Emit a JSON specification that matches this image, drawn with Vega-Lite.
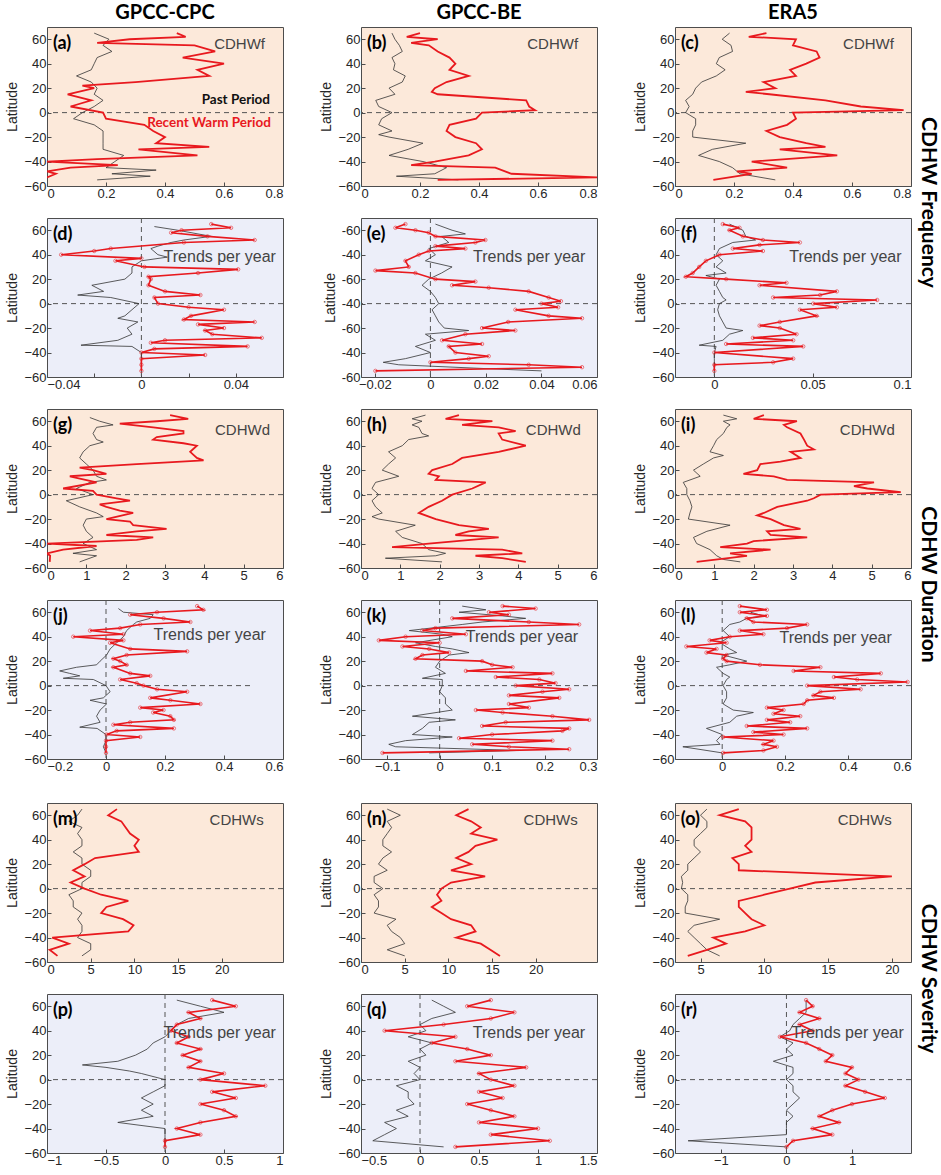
{
"$schema": "https://vega.github.io/schema/vega-lite/v6.json",
"padding": {"left": 5, "top": 2, "right": 2, "bottom": 2},
"background": "white",
"config": {
 "view": {"stroke": "#4d4d4d", "strokeWidth": 1},
 "axis": {"labelFont": "Liberation Sans", "labelFontSize": 13, "labelColor": "#262626", "titleFont": "Liberation Sans", "titleFontSize": 14, "titleFontWeight": "normal", "titleColor": "#262626", "grid": false, "domain": false, "tickColor": "#4d4d4d", "tickSize": -4, "labelPadding": 5, "format": "~r"},
 "axisY": {"titlePadding": 4},
 "title": {"font": "Lato", "fontSize": 20, "fontWeight": "bold", "color": "#000", "offset": 0}
},
"data": {"values": [
{"p":"a","s":"k","y":65,"x":0.16},{"p":"a","s":"k","y":60,"x":0.21},{"p":"a","s":"k","y":55,"x":0.19},{"p":"a","s":"k","y":50,"x":0.22},{"p":"a","s":"k","y":45,"x":0.17},{"p":"a","s":"k","y":40,"x":0.16},{"p":"a","s":"k","y":35,"x":0.15},{"p":"a","s":"k","y":30,"x":0.10},{"p":"a","s":"k","y":25,"x":0.15},{"p":"a","s":"k","y":20,"x":0.17},{"p":"a","s":"k","y":15,"x":0.16},{"p":"a","s":"k","y":10,"x":0.19},{"p":"a","s":"k","y":5,"x":0.16},{"p":"a","s":"k","y":0,"x":0.12},{"p":"a","s":"k","y":-5,"x":0.09},{"p":"a","s":"k","y":-10,"x":0.16},{"p":"a","s":"k","y":-15,"x":0.19},{"p":"a","s":"k","y":-20,"x":0.19},{"p":"a","s":"k","y":-25,"x":0.19},{"p":"a","s":"k","y":-30,"x":0.19},{"p":"a","s":"k","y":-35,"x":0.26},{"p":"a","s":"k","y":-40,"x":0.23},{"p":"a","s":"k","y":-45,"x":0.2},{"p":"a","s":"k","y":-47,"x":0.37},{"p":"a","s":"k","y":-50,"x":0.22},{"p":"a","s":"k","y":-52,"x":0.35},{"p":"a","s":"k","y":-55,"x":0.17},
{"p":"a","s":"r","y":65,"x":0.44},{"p":"a","s":"r","y":62,"x":0.47},{"p":"a","s":"r","y":60,"x":0.28},{"p":"a","s":"r","y":57,"x":0.17},{"p":"a","s":"r","y":55,"x":0.5},{"p":"a","s":"r","y":50,"x":0.57},{"p":"a","s":"r","y":45,"x":0.46},{"p":"a","s":"r","y":40,"x":0.6},{"p":"a","s":"r","y":35,"x":0.51},{"p":"a","s":"r","y":30,"x":0.55},{"p":"a","s":"r","y":25,"x":0.3},{"p":"a","s":"r","y":22,"x":0.12},{"p":"a","s":"r","y":20,"x":0.16},{"p":"a","s":"r","y":15,"x":0.07},{"p":"a","s":"r","y":10,"x":0.15},{"p":"a","s":"r","y":5,"x":0.08},{"p":"a","s":"r","y":0,"x":0.19},{"p":"a","s":"r","y":-5,"x":0.2},{"p":"a","s":"r","y":-10,"x":0.33},{"p":"a","s":"r","y":-15,"x":0.36},{"p":"a","s":"r","y":-20,"x":0.4},{"p":"a","s":"r","y":-25,"x":0.37},{"p":"a","s":"r","y":-28,"x":0.55},{"p":"a","s":"r","y":-30,"x":0.31},{"p":"a","s":"r","y":-35,"x":0.51},{"p":"a","s":"r","y":-38,"x":0.17},{"p":"a","s":"r","y":-40,"x":0.0},{"p":"a","s":"r","y":-43,"x":0.24},{"p":"a","s":"r","y":-45,"x":0.08},{"p":"a","s":"r","y":-48,"x":0.0},{"p":"a","s":"r","y":-50,"x":0.03},{"p":"a","s":"r","y":-53,"x":0.0},
{"p":"b","s":"k","y":65,"x":0.105},{"p":"b","s":"k","y":60,"x":0.115},{"p":"b","s":"k","y":55,"x":0.13},{"p":"b","s":"k","y":50,"x":0.14},{"p":"b","s":"k","y":45,"x":0.105},{"p":"b","s":"k","y":40,"x":0.115},{"p":"b","s":"k","y":35,"x":0.11},{"p":"b","s":"k","y":30,"x":0.15},{"p":"b","s":"k","y":25,"x":0.14},{"p":"b","s":"k","y":20,"x":0.095},{"p":"b","s":"k","y":15,"x":0.115},{"p":"b","s":"k","y":10,"x":0.05},{"p":"b","s":"k","y":5,"x":0.06},{"p":"b","s":"k","y":0,"x":0.105},{"p":"b","s":"k","y":-5,"x":0.07},{"p":"b","s":"k","y":-10,"x":0.06},{"p":"b","s":"k","y":-15,"x":0.105},{"p":"b","s":"k","y":-18,"x":0.06},{"p":"b","s":"k","y":-20,"x":0.095},{"p":"b","s":"k","y":-25,"x":0.21},{"p":"b","s":"k","y":-30,"x":0.16},{"p":"b","s":"k","y":-35,"x":0.095},{"p":"b","s":"k","y":-40,"x":0.21},{"p":"b","s":"k","y":-45,"x":0.29},{"p":"b","s":"k","y":-50,"x":0.25},{"p":"b","s":"k","y":-52,"x":0.12},{"p":"b","s":"k","y":-55,"x":0.33},
{"p":"b","s":"r","y":65,"x":0.2},{"p":"b","s":"r","y":62,"x":0.155},{"p":"b","s":"r","y":60,"x":0.26},{"p":"b","s":"r","y":57,"x":0.17},{"p":"b","s":"r","y":55,"x":0.23},{"p":"b","s":"r","y":50,"x":0.26},{"p":"b","s":"r","y":45,"x":0.3},{"p":"b","s":"r","y":40,"x":0.32},{"p":"b","s":"r","y":35,"x":0.3},{"p":"b","s":"r","y":30,"x":0.365},{"p":"b","s":"r","y":25,"x":0.29},{"p":"b","s":"r","y":20,"x":0.25},{"p":"b","s":"r","y":17,"x":0.24},{"p":"b","s":"r","y":15,"x":0.26},{"p":"b","s":"r","y":10,"x":0.56},{"p":"b","s":"r","y":5,"x":0.57},{"p":"b","s":"r","y":2,"x":0.59},{"p":"b","s":"r","y":0,"x":0.41},{"p":"b","s":"r","y":-5,"x":0.39},{"p":"b","s":"r","y":-10,"x":0.3},{"p":"b","s":"r","y":-15,"x":0.29},{"p":"b","s":"r","y":-20,"x":0.32},{"p":"b","s":"r","y":-25,"x":0.39},{"p":"b","s":"r","y":-30,"x":0.41},{"p":"b","s":"r","y":-35,"x":0.365},{"p":"b","s":"r","y":-40,"x":0.25},{"p":"b","s":"r","y":-43,"x":0.17},{"p":"b","s":"r","y":-45,"x":0.455},{"p":"b","s":"r","y":-50,"x":0.51},{"p":"b","s":"r","y":-53,"x":0.8},{"p":"b","s":"r","y":-55,"x":0.26},
{"p":"c","s":"k","y":65,"x":0.185},{"p":"c","s":"k","y":60,"x":0.16},{"p":"c","s":"k","y":55,"x":0.19},{"p":"c","s":"k","y":50,"x":0.195},{"p":"c","s":"k","y":45,"x":0.15},{"p":"c","s":"k","y":40,"x":0.14},{"p":"c","s":"k","y":35,"x":0.17},{"p":"c","s":"k","y":30,"x":0.14},{"p":"c","s":"k","y":25,"x":0.09},{"p":"c","s":"k","y":20,"x":0.07},{"p":"c","s":"k","y":15,"x":0.06},{"p":"c","s":"k","y":10,"x":0.036},{"p":"c","s":"k","y":5,"x":0.048},{"p":"c","s":"k","y":0,"x":0.036},{"p":"c","s":"k","y":-5,"x":0.07},{"p":"c","s":"k","y":-10,"x":0.07},{"p":"c","s":"k","y":-15,"x":0.06},{"p":"c","s":"k","y":-20,"x":0.06},{"p":"c","s":"k","y":-25,"x":0.24},{"p":"c","s":"k","y":-30,"x":0.127},{"p":"c","s":"k","y":-35,"x":0.08},{"p":"c","s":"k","y":-40,"x":0.15},{"p":"c","s":"k","y":-45,"x":0.195},{"p":"c","s":"k","y":-50,"x":0.22},{"p":"c","s":"k","y":-55,"x":0.34},
{"p":"c","s":"r","y":65,"x":0.31},{"p":"c","s":"r","y":62,"x":0.25},{"p":"c","s":"r","y":60,"x":0.41},{"p":"c","s":"r","y":55,"x":0.4},{"p":"c","s":"r","y":50,"x":0.48},{"p":"c","s":"r","y":45,"x":0.49},{"p":"c","s":"r","y":40,"x":0.445},{"p":"c","s":"r","y":35,"x":0.39},{"p":"c","s":"r","y":30,"x":0.41},{"p":"c","s":"r","y":25,"x":0.3},{"p":"c","s":"r","y":20,"x":0.34},{"p":"c","s":"r","y":17,"x":0.24},{"p":"c","s":"r","y":15,"x":0.32},{"p":"c","s":"r","y":10,"x":0.51},{"p":"c","s":"r","y":5,"x":0.63},{"p":"c","s":"r","y":2,"x":0.775},{"p":"c","s":"r","y":0,"x":0.4},{"p":"c","s":"r","y":-5,"x":0.41},{"p":"c","s":"r","y":-10,"x":0.38},{"p":"c","s":"r","y":-15,"x":0.31},{"p":"c","s":"r","y":-20,"x":0.355},{"p":"c","s":"r","y":-25,"x":0.445},{"p":"c","s":"r","y":-28,"x":0.51},{"p":"c","s":"r","y":-30,"x":0.355},{"p":"c","s":"r","y":-35,"x":0.55},{"p":"c","s":"r","y":-40,"x":0.26},{"p":"c","s":"r","y":-45,"x":0.38},{"p":"c","s":"r","y":-48,"x":0.21},{"p":"c","s":"r","y":-50,"x":0.26},{"p":"c","s":"r","y":-55,"x":0.13},
{"p":"d","s":"k","y":63,"x":0.0055},{"p":"d","s":"k","y":60,"x":0.0154},{"p":"d","s":"k","y":55,"x":0.0296},{"p":"d","s":"k","y":52,"x":0.018},{"p":"d","s":"k","y":50,"x":0.0126},{"p":"d","s":"k","y":47,"x":0.007},{"p":"d","s":"k","y":45,"x":0.004},{"p":"d","s":"k","y":40,"x":0.007},{"p":"d","s":"k","y":38,"x":0.011},{"p":"d","s":"k","y":35,"x":0},{"p":"d","s":"k","y":30,"x":-0.004},{"p":"d","s":"k","y":25,"x":-0.004},{"p":"d","s":"k","y":20,"x":-0.007},{"p":"d","s":"k","y":15,"x":-0.021},{"p":"d","s":"k","y":10,"x":-0.016},{"p":"d","s":"k","y":7,"x":-0.027},{"p":"d","s":"k","y":5,"x":-0.013},{"p":"d","s":"k","y":0,"x":-0.001},{"p":"d","s":"k","y":-5,"x":-0.004},{"p":"d","s":"k","y":-10,"x":-0.007},{"p":"d","s":"k","y":-12,"x":-0.01},{"p":"d","s":"k","y":-15,"x":-0.0015},{"p":"d","s":"k","y":-20,"x":-0.006},{"p":"d","s":"k","y":-25,"x":-0.004},{"p":"d","s":"k","y":-30,"x":-0.01},{"p":"d","s":"k","y":-34,"x":-0.0256},{"p":"d","s":"k","y":-35,"x":-0.004},{"p":"d","s":"k","y":-40,"x":0},{"p":"d","s":"k","y":-45,"x":0},{"p":"d","s":"k","y":-50,"x":0},{"p":"d","s":"k","y":-55,"x":0},
{"p":"d","s":"r","y":65,"x":0.0296},{"p":"d","s":"r","y":62,"x":0.038},{"p":"d","s":"r","y":60,"x":0.017},{"p":"d","s":"r","y":58,"x":0.0126},{"p":"d","s":"r","y":55,"x":0.028},{"p":"d","s":"r","y":52,"x":0.048},{"p":"d","s":"r","y":50,"x":0.018},{"p":"d","s":"r","y":45,"x":-0.013},{"p":"d","s":"r","y":43,"x":-0.02},{"p":"d","s":"r","y":40,"x":-0.034},{"p":"d","s":"r","y":37,"x":0},{"p":"d","s":"r","y":35,"x":-0.011},{"p":"d","s":"r","y":30,"x":0.0013},{"p":"d","s":"r","y":28,"x":0.041},{"p":"d","s":"r","y":25,"x":0.024},{"p":"d","s":"r","y":22,"x":0.003},{"p":"d","s":"r","y":20,"x":0.004},{"p":"d","s":"r","y":15,"x":0.003},{"p":"d","s":"r","y":10,"x":0.01},{"p":"d","s":"r","y":7,"x":0.025},{"p":"d","s":"r","y":5,"x":0.0055},{"p":"d","s":"r","y":0,"x":0.007},{"p":"d","s":"r","y":-3,"x":0.02},{"p":"d","s":"r","y":-5,"x":0.035},{"p":"d","s":"r","y":-10,"x":0.021},{"p":"d","s":"r","y":-13,"x":0.018},{"p":"d","s":"r","y":-15,"x":0.048},{"p":"d","s":"r","y":-17,"x":0.024},{"p":"d","s":"r","y":-20,"x":0.035},{"p":"d","s":"r","y":-22,"x":0.027},{"p":"d","s":"r","y":-25,"x":0.03},{"p":"d","s":"r","y":-28,"x":0.051},{"p":"d","s":"r","y":-30,"x":0.01},{"p":"d","s":"r","y":-32,"x":0.004},{"p":"d","s":"r","y":-35,"x":0.045},{"p":"d","s":"r","y":-37,"x":0.0055},{"p":"d","s":"r","y":-40,"x":0},{"p":"d","s":"r","y":-42,"x":0.027},{"p":"d","s":"r","y":-45,"x":0},{"p":"d","s":"r","y":-50,"x":0},{"p":"d","s":"r","y":-55,"x":0},
{"p":"e","s":"k","y":65,"x":0.0018},{"p":"e","s":"k","y":60,"x":0.0078},{"p":"e","s":"k","y":57,"x":0.0126},{"p":"e","s":"k","y":55,"x":0.004},{"p":"e","s":"k","y":50,"x":0.0066},{"p":"e","s":"k","y":45,"x":-0.0006},{"p":"e","s":"k","y":40,"x":0.0018},{"p":"e","s":"k","y":35,"x":-0.0018},{"p":"e","s":"k","y":30,"x":0.0078},{"p":"e","s":"k","y":25,"x":0.004},{"p":"e","s":"k","y":20,"x":-0.0006},{"p":"e","s":"k","y":15,"x":-0.003},{"p":"e","s":"k","y":10,"x":0},{"p":"e","s":"k","y":5,"x":0.0018},{"p":"e","s":"k","y":0,"x":0.003},{"p":"e","s":"k","y":-5,"x":0.0006},{"p":"e","s":"k","y":-10,"x":0.0018},{"p":"e","s":"k","y":-15,"x":0.003},{"p":"e","s":"k","y":-20,"x":0.005},{"p":"e","s":"k","y":-22,"x":0.0138},{"p":"e","s":"k","y":-25,"x":-0.0018},{"p":"e","s":"k","y":-30,"x":0.0018},{"p":"e","s":"k","y":-35,"x":-0.0054},{"p":"e","s":"k","y":-40,"x":0},{"p":"e","s":"k","y":-45,"x":-0.009},{"p":"e","s":"k","y":-48,"x":-0.017},{"p":"e","s":"k","y":-50,"x":-0.0114},{"p":"e","s":"k","y":-53,"x":0.0186},{"p":"e","s":"k","y":-55,"x":0.04},
{"p":"e","s":"r","y":65,"x":-0.009},{"p":"e","s":"r","y":62,"x":-0.0126},{"p":"e","s":"r","y":60,"x":-0.0054},{"p":"e","s":"r","y":58,"x":-0.0006},{"p":"e","s":"r","y":55,"x":0.0018},{"p":"e","s":"r","y":52,"x":0.0198},{"p":"e","s":"r","y":50,"x":0.0162},{"p":"e","s":"r","y":47,"x":0.0018},{"p":"e","s":"r","y":45,"x":0.0126},{"p":"e","s":"r","y":43,"x":-0.0006},{"p":"e","s":"r","y":40,"x":-0.0042},{"p":"e","s":"r","y":35,"x":-0.009},{"p":"e","s":"r","y":30,"x":-0.0078},{"p":"e","s":"r","y":27,"x":-0.0198},{"p":"e","s":"r","y":25,"x":-0.0054},{"p":"e","s":"r","y":20,"x":0.0018},{"p":"e","s":"r","y":18,"x":0.0162},{"p":"e","s":"r","y":15,"x":0.0078},{"p":"e","s":"r","y":13,"x":0.021},{"p":"e","s":"r","y":10,"x":0.0354},{"p":"e","s":"r","y":5,"x":0.0426},{"p":"e","s":"r","y":2,"x":0.047},{"p":"e","s":"r","y":0,"x":0.04},{"p":"e","s":"r","y":-3,"x":0.046},{"p":"e","s":"r","y":-5,"x":0.0306},{"p":"e","s":"r","y":-10,"x":0.0426},{"p":"e","s":"r","y":-12,"x":0.0546},{"p":"e","s":"r","y":-15,"x":0.028},{"p":"e","s":"r","y":-20,"x":0.0186},{"p":"e","s":"r","y":-22,"x":0.0306},{"p":"e","s":"r","y":-25,"x":0.0126},{"p":"e","s":"r","y":-30,"x":0.0042},{"p":"e","s":"r","y":-33,"x":0.0186},{"p":"e","s":"r","y":-35,"x":0.0066},{"p":"e","s":"r","y":-40,"x":0.009},{"p":"e","s":"r","y":-43,"x":0.021},{"p":"e","s":"r","y":-45,"x":0.0138},{"p":"e","s":"r","y":-48,"x":0},{"p":"e","s":"r","y":-50,"x":0.0354},{"p":"e","s":"r","y":-52,"x":0.0546},{"p":"e","s":"r","y":-55,"x":-0.0198},
{"p":"f","s":"k","y":65,"x":0.0077},{"p":"f","s":"k","y":60,"x":0.0145},{"p":"f","s":"k","y":55,"x":0.016},{"p":"f","s":"k","y":52,"x":0.021},{"p":"f","s":"k","y":50,"x":0.0094},{"p":"f","s":"k","y":45,"x":0.0026},{"p":"f","s":"k","y":40,"x":0.0009},{"p":"f","s":"k","y":35,"x":0.0043},{"p":"f","s":"k","y":30,"x":0.0009},{"p":"f","s":"k","y":25,"x":0.006},{"p":"f","s":"k","y":23,"x":-0.0043},{"p":"f","s":"k","y":20,"x":0.0026},{"p":"f","s":"k","y":15,"x":0.0009},{"p":"f","s":"k","y":10,"x":0.0026},{"p":"f","s":"k","y":5,"x":0.0043},{"p":"f","s":"k","y":3,"x":0.006},{"p":"f","s":"k","y":0,"x":0.0026},{"p":"f","s":"k","y":-5,"x":0.0017},{"p":"f","s":"k","y":-10,"x":0.0026},{"p":"f","s":"k","y":-15,"x":0.0043},{"p":"f","s":"k","y":-20,"x":0.006},{"p":"f","s":"k","y":-22,"x":0.0145},{"p":"f","s":"k","y":-25,"x":0.0077},{"p":"f","s":"k","y":-30,"x":0.0043},{"p":"f","s":"k","y":-34,"x":-0.0077},{"p":"f","s":"k","y":-35,"x":0.0009},{"p":"f","s":"k","y":-40,"x":0},{"p":"f","s":"k","y":-45,"x":0},{"p":"f","s":"k","y":-50,"x":0},{"p":"f","s":"k","y":-55,"x":0},
{"p":"f","s":"r","y":65,"x":0.0043},{"p":"f","s":"r","y":62,"x":0.0128},{"p":"f","s":"r","y":60,"x":0.0077},{"p":"f","s":"r","y":55,"x":0.0145},{"p":"f","s":"r","y":52,"x":0.0247},{"p":"f","s":"r","y":50,"x":0.0435},{"p":"f","s":"r","y":48,"x":0.023},{"p":"f","s":"r","y":45,"x":0.0094},{"p":"f","s":"r","y":43,"x":0.0247},{"p":"f","s":"r","y":40,"x":0.0026},{"p":"f","s":"r","y":35,"x":-0.0043},{"p":"f","s":"r","y":30,"x":-0.0077},{"p":"f","s":"r","y":25,"x":-0.011},{"p":"f","s":"r","y":22,"x":-0.0145},{"p":"f","s":"r","y":20,"x":0.006},{"p":"f","s":"r","y":17,"x":0.0367},{"p":"f","s":"r","y":15,"x":0.023},{"p":"f","s":"r","y":10,"x":0.0623},{"p":"f","s":"r","y":7,"x":0.0538},{"p":"f","s":"r","y":5,"x":0.0299},{"p":"f","s":"r","y":3,"x":0.0828},{"p":"f","s":"r","y":0,"x":0.0503},{"p":"f","s":"r","y":-3,"x":0.0623},{"p":"f","s":"r","y":-5,"x":0.0435},{"p":"f","s":"r","y":-10,"x":0.052},{"p":"f","s":"r","y":-15,"x":0.0333},{"p":"f","s":"r","y":-18,"x":0.023},{"p":"f","s":"r","y":-20,"x":0.0333},{"p":"f","s":"r","y":-25,"x":0.0418},{"p":"f","s":"r","y":-28,"x":0.0196},{"p":"f","s":"r","y":-30,"x":0.0401},{"p":"f","s":"r","y":-33,"x":0.006},{"p":"f","s":"r","y":-35,"x":0.0452},{"p":"f","s":"r","y":-40,"x":0},{"p":"f","s":"r","y":-45,"x":0.0401},{"p":"f","s":"r","y":-48,"x":0.0299},{"p":"f","s":"r","y":-50,"x":0},{"p":"f","s":"r","y":-55,"x":0},
{"p":"g","s":"k","y":63,"x":1.09},{"p":"g","s":"k","y":60,"x":1.34},{"p":"g","s":"k","y":57,"x":1.68},{"p":"g","s":"k","y":55,"x":1.26},{"p":"g","s":"k","y":50,"x":1.17},{"p":"g","s":"k","y":45,"x":1.26},{"p":"g","s":"k","y":43,"x":1.43},{"p":"g","s":"k","y":40,"x":1.09},{"p":"g","s":"k","y":35,"x":0.92},{"p":"g","s":"k","y":30,"x":0.83},{"p":"g","s":"k","y":25,"x":1.0},{"p":"g","s":"k","y":20,"x":1.17},{"p":"g","s":"k","y":15,"x":1.26},{"p":"g","s":"k","y":12,"x":1.51},{"p":"g","s":"k","y":10,"x":1.09},{"p":"g","s":"k","y":5,"x":0.75},{"p":"g","s":"k","y":0,"x":1.17},{"p":"g","s":"k","y":-5,"x":0.49},{"p":"g","s":"k","y":-10,"x":0.83},{"p":"g","s":"k","y":-15,"x":1.26},{"p":"g","s":"k","y":-18,"x":1.43},{"p":"g","s":"k","y":-20,"x":1.0},{"p":"g","s":"k","y":-25,"x":0.92},{"p":"g","s":"k","y":-30,"x":1.0},{"p":"g","s":"k","y":-35,"x":1.17},{"p":"g","s":"k","y":-40,"x":0.92},{"p":"g","s":"k","y":-45,"x":1.26},{"p":"g","s":"k","y":-48,"x":0.66},{"p":"g","s":"k","y":-50,"x":1.26},{"p":"g","s":"k","y":-55,"x":0.83},
{"p":"g","s":"r","y":65,"x":3.13},{"p":"g","s":"r","y":62,"x":3.59},{"p":"g","s":"r","y":60,"x":2.79},{"p":"g","s":"r","y":58,"x":1.85},{"p":"g","s":"r","y":55,"x":2.7},{"p":"g","s":"r","y":52,"x":3.47},{"p":"g","s":"r","y":50,"x":3.47},{"p":"g","s":"r","y":47,"x":2.79},{"p":"g","s":"r","y":45,"x":2.7},{"p":"g","s":"r","y":42,"x":3.47},{"p":"g","s":"r","y":40,"x":3.81},{"p":"g","s":"r","y":35,"x":3.64},{"p":"g","s":"r","y":30,"x":3.81},{"p":"g","s":"r","y":28,"x":3.98},{"p":"g","s":"r","y":25,"x":2.28},{"p":"g","s":"r","y":22,"x":0.83},{"p":"g","s":"r","y":20,"x":1.17},{"p":"g","s":"r","y":17,"x":1.51},{"p":"g","s":"r","y":15,"x":0.58},{"p":"g","s":"r","y":10,"x":1.26},{"p":"g","s":"r","y":5,"x":0.41},{"p":"g","s":"r","y":3,"x":1.17},{"p":"g","s":"r","y":0,"x":1.26},{"p":"g","s":"r","y":-3,"x":1.77},{"p":"g","s":"r","y":-5,"x":2.11},{"p":"g","s":"r","y":-8,"x":1.34},{"p":"g","s":"r","y":-10,"x":1.51},{"p":"g","s":"r","y":-13,"x":1.85},{"p":"g","s":"r","y":-15,"x":2.19},{"p":"g","s":"r","y":-20,"x":1.51},{"p":"g","s":"r","y":-22,"x":2.11},{"p":"g","s":"r","y":-25,"x":2.19},{"p":"g","s":"r","y":-28,"x":3.04},{"p":"g","s":"r","y":-30,"x":2.28},{"p":"g","s":"r","y":-33,"x":1.51},{"p":"g","s":"r","y":-35,"x":2.7},{"p":"g","s":"r","y":-37,"x":2.28},{"p":"g","s":"r","y":-40,"x":0},{"p":"g","s":"r","y":-42,"x":1.26},{"p":"g","s":"r","y":-45,"x":0.41},{"p":"g","s":"r","y":-48,"x":0},{"p":"g","s":"r","y":-50,"x":0.08},{"p":"g","s":"r","y":-55,"x":0.07},
{"p":"h","s":"k","y":65,"x":1.64},{"p":"h","s":"k","y":62,"x":1.3},{"p":"h","s":"k","y":60,"x":1.55},{"p":"h","s":"k","y":57,"x":1.3},{"p":"h","s":"k","y":55,"x":1.47},{"p":"h","s":"k","y":50,"x":1.55},{"p":"h","s":"k","y":48,"x":1.72},{"p":"h","s":"k","y":45,"x":1.21},{"p":"h","s":"k","y":40,"x":1.05},{"p":"h","s":"k","y":35,"x":0.7},{"p":"h","s":"k","y":30,"x":0.88},{"p":"h","s":"k","y":25,"x":0.7},{"p":"h","s":"k","y":20,"x":0.54},{"p":"h","s":"k","y":15,"x":0.96},{"p":"h","s":"k","y":10,"x":0.37},{"p":"h","s":"k","y":5,"x":0.28},{"p":"h","s":"k","y":0,"x":0.45},{"p":"h","s":"k","y":-5,"x":0.28},{"p":"h","s":"k","y":-10,"x":0.37},{"p":"h","s":"k","y":-15,"x":0.54},{"p":"h","s":"k","y":-18,"x":0.28},{"p":"h","s":"k","y":-20,"x":0.45},{"p":"h","s":"k","y":-25,"x":1.38},{"p":"h","s":"k","y":-30,"x":0.88},{"p":"h","s":"k","y":-35,"x":1.05},{"p":"h","s":"k","y":-40,"x":1.55},{"p":"h","s":"k","y":-45,"x":1.72},{"p":"h","s":"k","y":-48,"x":2.15},{"p":"h","s":"k","y":-50,"x":1.9},{"p":"h","s":"k","y":-52,"x":0.62},{"p":"h","s":"k","y":-55,"x":2.06},
{"p":"h","s":"r","y":65,"x":2.49},{"p":"h","s":"r","y":62,"x":2.15},{"p":"h","s":"r","y":60,"x":3.34},{"p":"h","s":"r","y":57,"x":2.57},{"p":"h","s":"r","y":55,"x":3.5},{"p":"h","s":"r","y":52,"x":3.93},{"p":"h","s":"r","y":50,"x":3.5},{"p":"h","s":"r","y":45,"x":3.59},{"p":"h","s":"r","y":40,"x":4.19},{"p":"h","s":"r","y":35,"x":3.5},{"p":"h","s":"r","y":30,"x":2.57},{"p":"h","s":"r","y":25,"x":2.32},{"p":"h","s":"r","y":20,"x":1.81},{"p":"h","s":"r","y":17,"x":1.72},{"p":"h","s":"r","y":15,"x":1.98},{"p":"h","s":"r","y":12,"x":1.9},{"p":"h","s":"r","y":10,"x":3.17},{"p":"h","s":"r","y":5,"x":2.83},{"p":"h","s":"r","y":0,"x":2.32},{"p":"h","s":"r","y":-5,"x":2.06},{"p":"h","s":"r","y":-10,"x":1.72},{"p":"h","s":"r","y":-15,"x":1.47},{"p":"h","s":"r","y":-20,"x":1.9},{"p":"h","s":"r","y":-25,"x":2.49},{"p":"h","s":"r","y":-28,"x":3.25},{"p":"h","s":"r","y":-30,"x":2.74},{"p":"h","s":"r","y":-33,"x":2.4},{"p":"h","s":"r","y":-35,"x":3.5},{"p":"h","s":"r","y":-40,"x":1.72},{"p":"h","s":"r","y":-43,"x":0.79},{"p":"h","s":"r","y":-45,"x":3.59},{"p":"h","s":"r","y":-48,"x":4.1},{"p":"h","s":"r","y":-50,"x":2.91},{"p":"h","s":"r","y":-52,"x":3.59},{"p":"h","s":"r","y":-55,"x":4.19},
{"p":"i","s":"k","y":65,"x":1.23},{"p":"i","s":"k","y":62,"x":1.57},{"p":"i","s":"k","y":60,"x":1.23},{"p":"i","s":"k","y":57,"x":1.4},{"p":"i","s":"k","y":55,"x":1.32},{"p":"i","s":"k","y":50,"x":1.23},{"p":"i","s":"k","y":45,"x":1.06},{"p":"i","s":"k","y":40,"x":0.98},{"p":"i","s":"k","y":35,"x":0.89},{"p":"i","s":"k","y":32,"x":1.23},{"p":"i","s":"k","y":30,"x":0.98},{"p":"i","s":"k","y":25,"x":0.72},{"p":"i","s":"k","y":20,"x":0.47},{"p":"i","s":"k","y":15,"x":0.64},{"p":"i","s":"k","y":10,"x":0.21},{"p":"i","s":"k","y":5,"x":0.3},{"p":"i","s":"k","y":0,"x":0.3},{"p":"i","s":"k","y":-5,"x":0.38},{"p":"i","s":"k","y":-10,"x":0.43},{"p":"i","s":"k","y":-15,"x":0.38},{"p":"i","s":"k","y":-20,"x":0.34},{"p":"i","s":"k","y":-25,"x":1.4},{"p":"i","s":"k","y":-30,"x":0.81},{"p":"i","s":"k","y":-35,"x":0.47},{"p":"i","s":"k","y":-40,"x":0.55},{"p":"i","s":"k","y":-45,"x":0.89},{"p":"i","s":"k","y":-50,"x":1.06},{"p":"i","s":"k","y":-53,"x":1.23},{"p":"i","s":"k","y":-55,"x":1.66},
{"p":"i","s":"r","y":65,"x":2.26},{"p":"i","s":"r","y":62,"x":2.0},{"p":"i","s":"r","y":60,"x":3.1},{"p":"i","s":"r","y":57,"x":2.77},{"p":"i","s":"r","y":55,"x":2.85},{"p":"i","s":"r","y":50,"x":3.19},{"p":"i","s":"r","y":45,"x":3.28},{"p":"i","s":"r","y":40,"x":3.36},{"p":"i","s":"r","y":37,"x":3.53},{"p":"i","s":"r","y":35,"x":2.94},{"p":"i","s":"r","y":30,"x":3.19},{"p":"i","s":"r","y":27,"x":2.68},{"p":"i","s":"r","y":25,"x":2.17},{"p":"i","s":"r","y":20,"x":2.09},{"p":"i","s":"r","y":17,"x":1.74},{"p":"i","s":"r","y":15,"x":2.51},{"p":"i","s":"r","y":12,"x":2.85},{"p":"i","s":"r","y":10,"x":5.06},{"p":"i","s":"r","y":7,"x":4.55},{"p":"i","s":"r","y":5,"x":4.89},{"p":"i","s":"r","y":2,"x":5.74},{"p":"i","s":"r","y":0,"x":3.7},{"p":"i","s":"r","y":-3,"x":3.53},{"p":"i","s":"r","y":-5,"x":3.36},{"p":"i","s":"r","y":-10,"x":2.6},{"p":"i","s":"r","y":-15,"x":2.26},{"p":"i","s":"r","y":-17,"x":2.09},{"p":"i","s":"r","y":-20,"x":2.43},{"p":"i","s":"r","y":-25,"x":2.77},{"p":"i","s":"r","y":-28,"x":3.19},{"p":"i","s":"r","y":-30,"x":2.34},{"p":"i","s":"r","y":-33,"x":2.43},{"p":"i","s":"r","y":-35,"x":3.36},{"p":"i","s":"r","y":-38,"x":2.0},{"p":"i","s":"r","y":-40,"x":1.83},{"p":"i","s":"r","y":-43,"x":1.15},{"p":"i","s":"r","y":-45,"x":2.43},{"p":"i","s":"r","y":-48,"x":1.4},{"p":"i","s":"r","y":-50,"x":1.83},{"p":"i","s":"r","y":-55,"x":0.55},
{"p":"j","s":"k","y":63,"x":0.042},{"p":"j","s":"k","y":60,"x":0.059},{"p":"j","s":"k","y":58,"x":0.16},{"p":"j","s":"k","y":55,"x":0.15},{"p":"j","s":"k","y":52,"x":0.104},{"p":"j","s":"k","y":50,"x":0.093},{"p":"j","s":"k","y":45,"x":0.07},{"p":"j","s":"k","y":40,"x":0.059},{"p":"j","s":"k","y":35,"x":0.036},{"p":"j","s":"k","y":30,"x":0.014},{"p":"j","s":"k","y":25,"x":0.002},{"p":"j","s":"k","y":20,"x":-0.02},{"p":"j","s":"k","y":17,"x":-0.032},{"p":"j","s":"k","y":15,"x":-0.1},{"p":"j","s":"k","y":12,"x":-0.157},{"p":"j","s":"k","y":10,"x":-0.123},{"p":"j","s":"k","y":8,"x":-0.089},{"p":"j","s":"k","y":6,"x":-0.145},{"p":"j","s":"k","y":5,"x":-0.043},{"p":"j","s":"k","y":0,"x":0},{"p":"j","s":"k","y":-5,"x":0.014},{"p":"j","s":"k","y":-10,"x":-0.009},{"p":"j","s":"k","y":-12,"x":-0.054},{"p":"j","s":"k","y":-15,"x":0.002},{"p":"j","s":"k","y":-20,"x":-0.02},{"p":"j","s":"k","y":-25,"x":-0.032},{"p":"j","s":"k","y":-30,"x":-0.02},{"p":"j","s":"k","y":-34,"x":-0.089},{"p":"j","s":"k","y":-35,"x":-0.03},{"p":"j","s":"k","y":-40,"x":0},{"p":"j","s":"k","y":-45,"x":0},{"p":"j","s":"k","y":-50,"x":-0.009},{"p":"j","s":"k","y":-55,"x":0},
{"p":"j","s":"r","y":65,"x":0.309},{"p":"j","s":"r","y":62,"x":0.33},{"p":"j","s":"r","y":60,"x":0.173},{"p":"j","s":"r","y":58,"x":0.082},{"p":"j","s":"r","y":55,"x":0.195},{"p":"j","s":"r","y":52,"x":0.286},{"p":"j","s":"r","y":50,"x":0.116},{"p":"j","s":"r","y":47,"x":0.048},{"p":"j","s":"r","y":45,"x":-0.054},{"p":"j","s":"r","y":42,"x":0.059},{"p":"j","s":"r","y":40,"x":-0.111},{"p":"j","s":"r","y":37,"x":0.059},{"p":"j","s":"r","y":35,"x":0.014},{"p":"j","s":"r","y":30,"x":0.082},{"p":"j","s":"r","y":28,"x":0.275},{"p":"j","s":"r","y":25,"x":0.07},{"p":"j","s":"r","y":22,"x":0.025},{"p":"j","s":"r","y":20,"x":0.048},{"p":"j","s":"r","y":17,"x":0.07},{"p":"j","s":"r","y":15,"x":0.025},{"p":"j","s":"r","y":10,"x":0.082},{"p":"j","s":"r","y":8,"x":0.15},{"p":"j","s":"r","y":5,"x":0.048},{"p":"j","s":"r","y":2,"x":0.104},{"p":"j","s":"r","y":0,"x":0.127},{"p":"j","s":"r","y":-3,"x":0.173},{"p":"j","s":"r","y":-5,"x":0.275},{"p":"j","s":"r","y":-10,"x":0.15},{"p":"j","s":"r","y":-12,"x":0.218},{"p":"j","s":"r","y":-15,"x":0.32},{"p":"j","s":"r","y":-18,"x":0.116},{"p":"j","s":"r","y":-20,"x":0.195},{"p":"j","s":"r","y":-22,"x":0.16},{"p":"j","s":"r","y":-25,"x":0.218},{"p":"j","s":"r","y":-28,"x":0.23},{"p":"j","s":"r","y":-30,"x":0.082},{"p":"j","s":"r","y":-32,"x":0.025},{"p":"j","s":"r","y":-35,"x":0.23},{"p":"j","s":"r","y":-37,"x":0.036},{"p":"j","s":"r","y":-40,"x":0.002},{"p":"j","s":"r","y":-42,"x":0.116},{"p":"j","s":"r","y":-45,"x":0},{"p":"j","s":"r","y":-50,"x":0},{"p":"j","s":"r","y":-55,"x":0},
{"p":"k","s":"k","y":65,"x":0.043},{"p":"k","s":"k","y":62,"x":0.088},{"p":"k","s":"k","y":60,"x":0.037},{"p":"k","s":"k","y":57,"x":0.12},{"p":"k","s":"k","y":55,"x":0.164},{"p":"k","s":"k","y":52,"x":0.081},{"p":"k","s":"k","y":50,"x":0.043},{"p":"k","s":"k","y":45,"x":-0.058},{"p":"k","s":"k","y":42,"x":0.005},{"p":"k","s":"k","y":40,"x":0.024},{"p":"k","s":"k","y":35,"x":-0.046},{"p":"k","s":"k","y":32,"x":-0.008},{"p":"k","s":"k","y":30,"x":0.024},{"p":"k","s":"k","y":27,"x":0.056},{"p":"k","s":"k","y":25,"x":0.018},{"p":"k","s":"k","y":20,"x":0},{"p":"k","s":"k","y":15,"x":-0.008},{"p":"k","s":"k","y":10,"x":0.011},{"p":"k","s":"k","y":6,"x":-0.033},{"p":"k","s":"k","y":5,"x":0.005},{"p":"k","s":"k","y":0,"x":0.005},{"p":"k","s":"k","y":-5,"x":0},{"p":"k","s":"k","y":-10,"x":0.011},{"p":"k","s":"k","y":-15,"x":0.011},{"p":"k","s":"k","y":-20,"x":0.024},{"p":"k","s":"k","y":-25,"x":-0.052},{"p":"k","s":"k","y":-28,"x":0.03},{"p":"k","s":"k","y":-30,"x":-0.02},{"p":"k","s":"k","y":-35,"x":-0.033},{"p":"k","s":"k","y":-40,"x":-0.052},{"p":"k","s":"k","y":-42,"x":0.024},{"p":"k","s":"k","y":-45,"x":-0.065},{"p":"k","s":"k","y":-48,"x":-0.097},{"p":"k","s":"k","y":-50,"x":-0.084},{"p":"k","s":"k","y":-53,"x":0.151},{"p":"k","s":"k","y":-55,"x":-0.02},
{"p":"k","s":"r","y":65,"x":0.12},{"p":"k","s":"r","y":63,"x":0.183},{"p":"k","s":"r","y":60,"x":0.094},{"p":"k","s":"r","y":58,"x":0.132},{"p":"k","s":"r","y":55,"x":0.024},{"p":"k","s":"r","y":52,"x":0.17},{"p":"k","s":"r","y":50,"x":0.266},{"p":"k","s":"r","y":47,"x":-0.008},{"p":"k","s":"r","y":45,"x":-0.033},{"p":"k","s":"r","y":42,"x":0.05},{"p":"k","s":"r","y":40,"x":-0.065},{"p":"k","s":"r","y":37,"x":-0.116},{"p":"k","s":"r","y":35,"x":0},{"p":"k","s":"r","y":32,"x":-0.071},{"p":"k","s":"r","y":30,"x":-0.02},{"p":"k","s":"r","y":27,"x":0.018},{"p":"k","s":"r","y":25,"x":-0.033},{"p":"k","s":"r","y":22,"x":-0.046},{"p":"k","s":"r","y":20,"x":0.081},{"p":"k","s":"r","y":17,"x":0.1},{"p":"k","s":"r","y":15,"x":0.139},{"p":"k","s":"r","y":12,"x":0.05},{"p":"k","s":"r","y":10,"x":0.215},{"p":"k","s":"r","y":7,"x":0.107},{"p":"k","s":"r","y":5,"x":0.19},{"p":"k","s":"r","y":2,"x":0.221},{"p":"k","s":"r","y":0,"x":0.145},{"p":"k","s":"r","y":-3,"x":0.247},{"p":"k","s":"r","y":-5,"x":0.196},{"p":"k","s":"r","y":-8,"x":0.132},{"p":"k","s":"r","y":-10,"x":0.228},{"p":"k","s":"r","y":-15,"x":0.132},{"p":"k","s":"r","y":-18,"x":0.17},{"p":"k","s":"r","y":-20,"x":0.069},{"p":"k","s":"r","y":-22,"x":0.12},{"p":"k","s":"r","y":-25,"x":0.215},{"p":"k","s":"r","y":-28,"x":0.285},{"p":"k","s":"r","y":-30,"x":0.126},{"p":"k","s":"r","y":-33,"x":0.081},{"p":"k","s":"r","y":-35,"x":0.247},{"p":"k","s":"r","y":-37,"x":0.234},{"p":"k","s":"r","y":-40,"x":0.1},{"p":"k","s":"r","y":-43,"x":0.037},{"p":"k","s":"r","y":-45,"x":0.215},{"p":"k","s":"r","y":-48,"x":0.062},{"p":"k","s":"r","y":-50,"x":0.132},{"p":"k","s":"r","y":-52,"x":0.247},{"p":"k","s":"r","y":-55,"x":-0.109},
{"p":"l","s":"k","y":60,"x":0.09},{"p":"l","s":"k","y":57,"x":0.13},{"p":"l","s":"k","y":55,"x":0.078},{"p":"l","s":"k","y":52,"x":0.056},{"p":"l","s":"k","y":50,"x":0.024},{"p":"l","s":"k","y":45,"x":0.003},{"p":"l","s":"k","y":40,"x":0.024},{"p":"l","s":"k","y":35,"x":-0.007},{"p":"l","s":"k","y":30,"x":0.024},{"p":"l","s":"k","y":27,"x":0.046},{"p":"l","s":"k","y":25,"x":0.003},{"p":"l","s":"k","y":20,"x":0.078},{"p":"l","s":"k","y":17,"x":0.024},{"p":"l","s":"k","y":15,"x":-0.018},{"p":"l","s":"k","y":10,"x":0.003},{"p":"l","s":"k","y":7,"x":0.024},{"p":"l","s":"k","y":5,"x":0.014},{"p":"l","s":"k","y":0,"x":0.003},{"p":"l","s":"k","y":-5,"x":0.014},{"p":"l","s":"k","y":-10,"x":0.014},{"p":"l","s":"k","y":-15,"x":0.003},{"p":"l","s":"k","y":-20,"x":0.035},{"p":"l","s":"k","y":-22,"x":0.099},{"p":"l","s":"k","y":-25,"x":0.046},{"p":"l","s":"k","y":-30,"x":0.024},{"p":"l","s":"k","y":-35,"x":-0.05},{"p":"l","s":"k","y":-40,"x":0},{"p":"l","s":"k","y":-45,"x":-0.018},{"p":"l","s":"k","y":-48,"x":-0.007},{"p":"l","s":"k","y":-50,"x":-0.125},{"p":"l","s":"k","y":-55,"x":0},
{"p":"l","s":"r","y":65,"x":0.056},{"p":"l","s":"r","y":62,"x":0.142},{"p":"l","s":"r","y":60,"x":0.056},{"p":"l","s":"r","y":57,"x":0.142},{"p":"l","s":"r","y":55,"x":0.078},{"p":"l","s":"r","y":52,"x":0.099},{"p":"l","s":"r","y":50,"x":0.27},{"p":"l","s":"r","y":47,"x":0.206},{"p":"l","s":"r","y":45,"x":0.056},{"p":"l","s":"r","y":42,"x":0.131},{"p":"l","s":"r","y":40,"x":0.024},{"p":"l","s":"r","y":37,"x":-0.04},{"p":"l","s":"r","y":35,"x":0.014},{"p":"l","s":"r","y":32,"x":-0.114},{"p":"l","s":"r","y":30,"x":-0.018},{"p":"l","s":"r","y":27,"x":-0.05},{"p":"l","s":"r","y":25,"x":0.014},{"p":"l","s":"r","y":22,"x":0.003},{"p":"l","s":"r","y":20,"x":0.014},{"p":"l","s":"r","y":17,"x":0.12},{"p":"l","s":"r","y":15,"x":0.312},{"p":"l","s":"r","y":12,"x":0.227},{"p":"l","s":"r","y":10,"x":0.504},{"p":"l","s":"r","y":7,"x":0.355},{"p":"l","s":"r","y":5,"x":0.429},{"p":"l","s":"r","y":3,"x":0.589},{"p":"l","s":"r","y":0,"x":0.27},{"p":"l","s":"r","y":-3,"x":0.44},{"p":"l","s":"r","y":-5,"x":0.312},{"p":"l","s":"r","y":-8,"x":0.29},{"p":"l","s":"r","y":-10,"x":0.355},{"p":"l","s":"r","y":-12,"x":0.27},{"p":"l","s":"r","y":-15,"x":0.259},{"p":"l","s":"r","y":-18,"x":0.142},{"p":"l","s":"r","y":-20,"x":0.195},{"p":"l","s":"r","y":-23,"x":0.163},{"p":"l","s":"r","y":-25,"x":0.248},{"p":"l","s":"r","y":-28,"x":0.142},{"p":"l","s":"r","y":-30,"x":0.216},{"p":"l","s":"r","y":-33,"x":0.078},{"p":"l","s":"r","y":-35,"x":0.27},{"p":"l","s":"r","y":-38,"x":0.099},{"p":"l","s":"r","y":-40,"x":0.195},{"p":"l","s":"r","y":-42,"x":0.003},{"p":"l","s":"r","y":-45,"x":0.163},{"p":"l","s":"r","y":-48,"x":0.131},{"p":"l","s":"r","y":-50,"x":0.174},{"p":"l","s":"r","y":-53,"x":0.131},{"p":"l","s":"r","y":-55,"x":0.003},
{"p":"m","s":"k","y":65,"x":4},{"p":"m","s":"k","y":60,"x":3.5},{"p":"m","s":"k","y":55,"x":2.5},{"p":"m","s":"k","y":50,"x":4},{"p":"m","s":"k","y":45,"x":3.5},{"p":"m","s":"k","y":40,"x":4},{"p":"m","s":"k","y":35,"x":4},{"p":"m","s":"k","y":30,"x":3},{"p":"m","s":"k","y":25,"x":4},{"p":"m","s":"k","y":20,"x":4},{"p":"m","s":"k","y":15,"x":5},{"p":"m","s":"k","y":10,"x":5},{"p":"m","s":"k","y":5,"x":4},{"p":"m","s":"k","y":0,"x":4},{"p":"m","s":"k","y":-5,"x":2.5},{"p":"m","s":"k","y":-10,"x":3},{"p":"m","s":"k","y":-15,"x":3},{"p":"m","s":"k","y":-20,"x":4},{"p":"m","s":"k","y":-25,"x":3.5},{"p":"m","s":"k","y":-30,"x":4},{"p":"m","s":"k","y":-35,"x":4},{"p":"m","s":"k","y":-40,"x":3.5},{"p":"m","s":"k","y":-45,"x":5},{"p":"m","s":"k","y":-50,"x":5},{"p":"m","s":"k","y":-55,"x":4},
{"p":"m","s":"r","y":65,"x":8},{"p":"m","s":"r","y":60,"x":7},{"p":"m","s":"r","y":55,"x":8.5},{"p":"m","s":"r","y":50,"x":9},{"p":"m","s":"r","y":45,"x":9.5},{"p":"m","s":"r","y":40,"x":10.5},{"p":"m","s":"r","y":35,"x":10},{"p":"m","s":"r","y":30,"x":10.5},{"p":"m","s":"r","y":25,"x":5.5},{"p":"m","s":"r","y":20,"x":4.3},{"p":"m","s":"r","y":15,"x":3},{"p":"m","s":"r","y":10,"x":4.3},{"p":"m","s":"r","y":5,"x":2.7},{"p":"m","s":"r","y":0,"x":4.3},{"p":"m","s":"r","y":-5,"x":6.2},{"p":"m","s":"r","y":-10,"x":9.3},{"p":"m","s":"r","y":-15,"x":6.8},{"p":"m","s":"r","y":-20,"x":6.2},{"p":"m","s":"r","y":-25,"x":8.7},{"p":"m","s":"r","y":-30,"x":9.9},{"p":"m","s":"r","y":-35,"x":9.3},{"p":"m","s":"r","y":-40,"x":0.6},{"p":"m","s":"r","y":-45,"x":2.5},{"p":"m","s":"r","y":-50,"x":0.3},{"p":"m","s":"r","y":-55,"x":1.2},
{"p":"n","s":"k","y":65,"x":3},{"p":"n","s":"k","y":60,"x":4.5},{"p":"n","s":"k","y":55,"x":3},{"p":"n","s":"k","y":50,"x":3.5},{"p":"n","s":"k","y":45,"x":3},{"p":"n","s":"k","y":40,"x":2.5},{"p":"n","s":"k","y":35,"x":2.5},{"p":"n","s":"k","y":30,"x":3.5},{"p":"n","s":"k","y":25,"x":2.5},{"p":"n","s":"k","y":20,"x":2},{"p":"n","s":"k","y":15,"x":3},{"p":"n","s":"k","y":10,"x":1.5},{"p":"n","s":"k","y":5,"x":1.5},{"p":"n","s":"k","y":0,"x":2.5},{"p":"n","s":"k","y":-5,"x":1.5},{"p":"n","s":"k","y":-10,"x":2},{"p":"n","s":"k","y":-15,"x":2},{"p":"n","s":"k","y":-20,"x":1.5},{"p":"n","s":"k","y":-25,"x":4},{"p":"n","s":"k","y":-30,"x":3},{"p":"n","s":"k","y":-35,"x":3.5},{"p":"n","s":"k","y":-40,"x":4.5},{"p":"n","s":"k","y":-45,"x":5},{"p":"n","s":"k","y":-50,"x":3},{"p":"n","s":"k","y":-55,"x":5},
{"p":"n","s":"r","y":65,"x":12.3},{"p":"n","s":"r","y":60,"x":10.9},{"p":"n","s":"r","y":55,"x":12.6},{"p":"n","s":"r","y":50,"x":13.7},{"p":"n","s":"r","y":45,"x":12.6},{"p":"n","s":"r","y":40,"x":15.6},{"p":"n","s":"r","y":35,"x":13.1},{"p":"n","s":"r","y":30,"x":12.3},{"p":"n","s":"r","y":25,"x":10.9},{"p":"n","s":"r","y":20,"x":12.6},{"p":"n","s":"r","y":15,"x":10.3},{"p":"n","s":"r","y":10,"x":14.2},{"p":"n","s":"r","y":5,"x":10.3},{"p":"n","s":"r","y":0,"x":9.2},{"p":"n","s":"r","y":-5,"x":8.7},{"p":"n","s":"r","y":-10,"x":9.2},{"p":"n","s":"r","y":-15,"x":8.1},{"p":"n","s":"r","y":-20,"x":9.2},{"p":"n","s":"r","y":-25,"x":10.3},{"p":"n","s":"r","y":-30,"x":12.6},{"p":"n","s":"r","y":-35,"x":13.1},{"p":"n","s":"r","y":-40,"x":10.9},{"p":"n","s":"r","y":-45,"x":13.7},{"p":"n","s":"r","y":-50,"x":14.8},{"p":"n","s":"r","y":-55,"x":15.9},
{"p":"o","s":"k","y":65,"x":5.5},{"p":"o","s":"k","y":60,"x":5},{"p":"o","s":"k","y":55,"x":5.5},{"p":"o","s":"k","y":50,"x":5.5},{"p":"o","s":"k","y":45,"x":5},{"p":"o","s":"k","y":40,"x":4.5},{"p":"o","s":"k","y":35,"x":4.5},{"p":"o","s":"k","y":30,"x":5},{"p":"o","s":"k","y":25,"x":4.5},{"p":"o","s":"k","y":20,"x":4},{"p":"o","s":"k","y":15,"x":4},{"p":"o","s":"k","y":10,"x":3.5},{"p":"o","s":"k","y":5,"x":3.6},{"p":"o","s":"k","y":0,"x":3.5},{"p":"o","s":"k","y":-5,"x":4},{"p":"o","s":"k","y":-10,"x":4},{"p":"o","s":"k","y":-15,"x":3.8},{"p":"o","s":"k","y":-20,"x":3.8},{"p":"o","s":"k","y":-25,"x":6.5},{"p":"o","s":"k","y":-30,"x":4.5},{"p":"o","s":"k","y":-35,"x":4},{"p":"o","s":"k","y":-40,"x":4.5},{"p":"o","s":"k","y":-45,"x":5},{"p":"o","s":"k","y":-50,"x":5.5},{"p":"o","s":"k","y":-55,"x":6.5},
{"p":"o","s":"r","y":65,"x":8},{"p":"o","s":"r","y":60,"x":6.5},{"p":"o","s":"r","y":55,"x":8.5},{"p":"o","s":"r","y":50,"x":9},{"p":"o","s":"r","y":45,"x":9},{"p":"o","s":"r","y":40,"x":9},{"p":"o","s":"r","y":35,"x":8.5},{"p":"o","s":"r","y":30,"x":9},{"p":"o","s":"r","y":25,"x":7.5},{"p":"o","s":"r","y":20,"x":8},{"p":"o","s":"r","y":15,"x":8},{"p":"o","s":"r","y":10,"x":20},{"p":"o","s":"r","y":5,"x":14},{"p":"o","s":"r","y":0,"x":12},{"p":"o","s":"r","y":-5,"x":10},{"p":"o","s":"r","y":-10,"x":8},{"p":"o","s":"r","y":-15,"x":8},{"p":"o","s":"r","y":-20,"x":8.5},{"p":"o","s":"r","y":-25,"x":9},{"p":"o","s":"r","y":-30,"x":10},{"p":"o","s":"r","y":-35,"x":8.5},{"p":"o","s":"r","y":-40,"x":6},{"p":"o","s":"r","y":-45,"x":7},{"p":"o","s":"r","y":-50,"x":5.5},{"p":"o","s":"r","y":-55,"x":4},
{"p":"p","s":"k","y":65,"x":0.1},{"p":"p","s":"k","y":60,"x":0.3},{"p":"p","s":"k","y":55,"x":0.5},{"p":"p","s":"k","y":50,"x":0.2},{"p":"p","s":"k","y":45,"x":0.1},{"p":"p","s":"k","y":40,"x":0.05},{"p":"p","s":"k","y":35,"x":0},{"p":"p","s":"k","y":30,"x":-0.1},{"p":"p","s":"k","y":25,"x":-0.15},{"p":"p","s":"k","y":20,"x":-0.25},{"p":"p","s":"k","y":15,"x":-0.4},{"p":"p","s":"k","y":12,"x":-0.7},{"p":"p","s":"k","y":10,"x":-0.5},{"p":"p","s":"k","y":7,"x":-0.3},{"p":"p","s":"k","y":5,"x":-0.2},{"p":"p","s":"k","y":0,"x":0},{"p":"p","s":"k","y":-5,"x":0},{"p":"p","s":"k","y":-10,"x":-0.1},{"p":"p","s":"k","y":-15,"x":-0.2},{"p":"p","s":"k","y":-20,"x":-0.1},{"p":"p","s":"k","y":-25,"x":-0.2},{"p":"p","s":"k","y":-30,"x":-0.1},{"p":"p","s":"k","y":-35,"x":-0.4},{"p":"p","s":"k","y":-40,"x":0},{"p":"p","s":"k","y":-45,"x":0},{"p":"p","s":"k","y":-50,"x":0},{"p":"p","s":"k","y":-55,"x":0},
{"p":"p","s":"r","y":65,"x":0.4},{"p":"p","s":"r","y":60,"x":0.6},{"p":"p","s":"r","y":55,"x":0.2},{"p":"p","s":"r","y":50,"x":0.3},{"p":"p","s":"r","y":45,"x":0.1},{"p":"p","s":"r","y":40,"x":0.05},{"p":"p","s":"r","y":35,"x":0.2},{"p":"p","s":"r","y":30,"x":0.1},{"p":"p","s":"r","y":25,"x":0.3},{"p":"p","s":"r","y":20,"x":0.15},{"p":"p","s":"r","y":15,"x":0.3},{"p":"p","s":"r","y":10,"x":0.2},{"p":"p","s":"r","y":5,"x":0.5},{"p":"p","s":"r","y":0,"x":0.3},{"p":"p","s":"r","y":-5,"x":0.85},{"p":"p","s":"r","y":-10,"x":0.4},{"p":"p","s":"r","y":-15,"x":0.6},{"p":"p","s":"r","y":-20,"x":0.3},{"p":"p","s":"r","y":-25,"x":0.5},{"p":"p","s":"r","y":-30,"x":0.6},{"p":"p","s":"r","y":-35,"x":0.3},{"p":"p","s":"r","y":-40,"x":0.1},{"p":"p","s":"r","y":-45,"x":0.3},{"p":"p","s":"r","y":-50,"x":0},{"p":"p","s":"r","y":-55,"x":0},
{"p":"q","s":"k","y":65,"x":0.1},{"p":"q","s":"k","y":60,"x":0.2},{"p":"q","s":"k","y":55,"x":0.3},{"p":"q","s":"k","y":50,"x":0.1},{"p":"q","s":"k","y":45,"x":0},{"p":"q","s":"k","y":40,"x":0.05},{"p":"q","s":"k","y":35,"x":-0.1},{"p":"q","s":"k","y":30,"x":0.1},{"p":"q","s":"k","y":25,"x":0},{"p":"q","s":"k","y":20,"x":0.05},{"p":"q","s":"k","y":15,"x":-0.1},{"p":"q","s":"k","y":10,"x":0},{"p":"q","s":"k","y":5,"x":-0.05},{"p":"q","s":"k","y":0,"x":0},{"p":"q","s":"k","y":-5,"x":-0.2},{"p":"q","s":"k","y":-10,"x":-0.1},{"p":"q","s":"k","y":-15,"x":-0.1},{"p":"q","s":"k","y":-20,"x":-0.05},{"p":"q","s":"k","y":-25,"x":-0.2},{"p":"q","s":"k","y":-30,"x":-0.1},{"p":"q","s":"k","y":-35,"x":-0.3},{"p":"q","s":"k","y":-40,"x":-0.2},{"p":"q","s":"k","y":-45,"x":-0.3},{"p":"q","s":"k","y":-50,"x":-0.4},{"p":"q","s":"k","y":-55,"x":0.2},
{"p":"q","s":"r","y":65,"x":0.6},{"p":"q","s":"r","y":60,"x":0.4},{"p":"q","s":"r","y":55,"x":0.8},{"p":"q","s":"r","y":50,"x":0.6},{"p":"q","s":"r","y":45,"x":0.2},{"p":"q","s":"r","y":40,"x":-0.3},{"p":"q","s":"r","y":35,"x":0.3},{"p":"q","s":"r","y":30,"x":0.1},{"p":"q","s":"r","y":25,"x":0.4},{"p":"q","s":"r","y":20,"x":0.6},{"p":"q","s":"r","y":15,"x":0.3},{"p":"q","s":"r","y":10,"x":0.9},{"p":"q","s":"r","y":5,"x":0.5},{"p":"q","s":"r","y":0,"x":0.6},{"p":"q","s":"r","y":-5,"x":0.8},{"p":"q","s":"r","y":-10,"x":0.5},{"p":"q","s":"r","y":-15,"x":0.7},{"p":"q","s":"r","y":-20,"x":0.4},{"p":"q","s":"r","y":-25,"x":0.6},{"p":"q","s":"r","y":-30,"x":0.8},{"p":"q","s":"r","y":-35,"x":0.5},{"p":"q","s":"r","y":-40,"x":1.0},{"p":"q","s":"r","y":-45,"x":0.6},{"p":"q","s":"r","y":-50,"x":1.1},{"p":"q","s":"r","y":-55,"x":0.3},
{"p":"r","s":"k","y":65,"x":0.3},{"p":"r","s":"k","y":60,"x":0.3},{"p":"r","s":"k","y":55,"x":0.3},{"p":"r","s":"k","y":50,"x":0.2},{"p":"r","s":"k","y":45,"x":0.1},{"p":"r","s":"k","y":40,"x":0.05},{"p":"r","s":"k","y":35,"x":-0.1},{"p":"r","s":"k","y":30,"x":0.1},{"p":"r","s":"k","y":25,"x":0},{"p":"r","s":"k","y":20,"x":0.1},{"p":"r","s":"k","y":15,"x":-0.2},{"p":"r","s":"k","y":10,"x":0.1},{"p":"r","s":"k","y":5,"x":0.1},{"p":"r","s":"k","y":0,"x":0},{"p":"r","s":"k","y":-5,"x":0.1},{"p":"r","s":"k","y":-10,"x":0.1},{"p":"r","s":"k","y":-15,"x":0.2},{"p":"r","s":"k","y":-20,"x":0.1},{"p":"r","s":"k","y":-25,"x":0},{"p":"r","s":"k","y":-30,"x":0.1},{"p":"r","s":"k","y":-35,"x":0},{"p":"r","s":"k","y":-40,"x":0},{"p":"r","s":"k","y":-45,"x":0},{"p":"r","s":"k","y":-50,"x":-1.5},{"p":"r","s":"k","y":-55,"x":0},
{"p":"r","s":"r","y":65,"x":0.3},{"p":"r","s":"r","y":60,"x":0.4},{"p":"r","s":"r","y":55,"x":0.2},{"p":"r","s":"r","y":50,"x":0.5},{"p":"r","s":"r","y":45,"x":0.2},{"p":"r","s":"r","y":40,"x":0.4},{"p":"r","s":"r","y":35,"x":-0.1},{"p":"r","s":"r","y":30,"x":0.3},{"p":"r","s":"r","y":25,"x":0.5},{"p":"r","s":"r","y":20,"x":0.7},{"p":"r","s":"r","y":15,"x":0.6},{"p":"r","s":"r","y":10,"x":1.0},{"p":"r","s":"r","y":5,"x":0.9},{"p":"r","s":"r","y":0,"x":1.1},{"p":"r","s":"r","y":-5,"x":0.9},{"p":"r","s":"r","y":-10,"x":1.2},{"p":"r","s":"r","y":-15,"x":1.5},{"p":"r","s":"r","y":-20,"x":1.0},{"p":"r","s":"r","y":-25,"x":0.7},{"p":"r","s":"r","y":-30,"x":0.5},{"p":"r","s":"r","y":-35,"x":0.8},{"p":"r","s":"r","y":-40,"x":0.4},{"p":"r","s":"r","y":-45,"x":0.7},{"p":"r","s":"r","y":-50,"x":0.1},{"p":"r","s":"r","y":-55,"x":0}
]},
"spacing": 28,
"vconcat": [
{"columns": 3, "bounds": "flush", "spacing": {"row": 32, "column": 78}, "concat": [
  {"width": 236, "height": 159, "title": "GPCC-CPC", "view": {"fill": "#fce9da"}, "transform": [{"filter": "datum.p==='a'"}], "resolve": {"axis": {"x": "independent", "y": "independent"}}, "layer": [
   {"data": {"values": [{}]}, "mark": {"type": "rule", "strokeDash": [5, 4], "color": "#555", "strokeWidth": 1}, "encoding": {"y": {"datum": 0, "axis": null}}},
   {"transform": [{"filter": "datum.s==='k'"}], "mark": {"type": "line", "color": "#333", "strokeWidth": 0.8, "clip": true}, "encoding": {"x": {"field": "x", "type": "quantitative", "scale": {"domain": [0, 0.8], "nice": false, "zero": false}, "axis": {"values": [0, 0.2, 0.4, 0.6, 0.8], "title": null}}, "y": {"field": "y", "type": "quantitative", "scale": {"domain": [-60, 70], "nice": false}, "axis": {"values": [-60, -40, -20, 0, 20, 40, 60], "title": "Latitude"}}, "order": {"field": "y", "type": "quantitative"}}},
   {"transform": [{"filter": "datum.s==='r'"}], "mark": {"type": "line", "color": "#e8191e", "strokeWidth": 1.8, "clip": true}, "encoding": {"x": {"field": "x", "type": "quantitative", "axis": null}, "y": {"field": "y", "type": "quantitative", "axis": null}, "order": {"field": "y", "type": "quantitative"}}},
   {"data": {"values": [{}]}, "mark": {"type": "text", "font": "Lato", "fontWeight": "bold", "fontSize": 18, "align": "left", "baseline": "middle"}, "encoding": {"x": {"datum": 0.02, "axis": null}, "y": {"datum": 56, "axis": null}, "text": {"value": "(a)"}}},
   {"data": {"values": [{}]}, "mark": {"type": "text", "font": "Liberation Sans", "fontSize": 15, "color": "#444", "align": "right", "baseline": "middle"}, "encoding": {"x": {"datum": 0.739, "axis": null}, "y": {"datum": 56, "axis": null}, "text": {"value": "CDHWf"}}},
   {"data": {"values": [{}]}, "mark": {"type": "text", "font": "Lato", "fontWeight": "bold", "fontSize": 13.5, "color": "#111", "align": "right", "baseline": "middle"}, "encoding": {"x": {"datum": 0.756, "axis": null}, "y": {"datum": 10.7, "axis": null}, "text": {"value": "Past Period"}}},
   {"data": {"values": [{}]}, "mark": {"type": "text", "font": "Lato", "fontWeight": "bold", "fontSize": 13.5, "color": "#e8191e", "align": "right", "baseline": "middle"}, "encoding": {"x": {"datum": 0.759, "axis": null}, "y": {"datum": -8.8, "axis": null}, "text": {"value": "Recent Warm Period"}}}
  ]},
  {"width": 236, "height": 159, "title": "GPCC-BE", "view": {"fill": "#fce9da"}, "transform": [{"filter": "datum.p==='b'"}], "resolve": {"axis": {"x": "independent", "y": "independent"}}, "layer": [
   {"data": {"values": [{}]}, "mark": {"type": "rule", "strokeDash": [5, 4], "color": "#555", "strokeWidth": 1}, "encoding": {"y": {"datum": 0, "axis": null}}},
   {"transform": [{"filter": "datum.s==='k'"}], "mark": {"type": "line", "color": "#333", "strokeWidth": 0.8, "clip": true}, "encoding": {"x": {"field": "x", "type": "quantitative", "scale": {"domain": [0, 0.8], "nice": false, "zero": false}, "axis": {"values": [0, 0.2, 0.4, 0.6, 0.8], "title": null}}, "y": {"field": "y", "type": "quantitative", "scale": {"domain": [-60, 70], "nice": false}, "axis": {"values": [-60, -40, -20, 0, 20, 40, 60], "title": "Latitude"}}, "order": {"field": "y", "type": "quantitative"}}},
   {"transform": [{"filter": "datum.s==='r'"}], "mark": {"type": "line", "color": "#e8191e", "strokeWidth": 1.8, "clip": true}, "encoding": {"x": {"field": "x", "type": "quantitative", "axis": null}, "y": {"field": "y", "type": "quantitative", "axis": null}, "order": {"field": "y", "type": "quantitative"}}},
   {"data": {"values": [{}]}, "mark": {"type": "text", "font": "Lato", "fontWeight": "bold", "fontSize": 18, "align": "left", "baseline": "middle"}, "encoding": {"x": {"datum": 0.02, "axis": null}, "y": {"datum": 56, "axis": null}, "text": {"value": "(b)"}}},
   {"data": {"values": [{}]}, "mark": {"type": "text", "font": "Liberation Sans", "fontSize": 15, "color": "#444", "align": "right", "baseline": "middle"}, "encoding": {"x": {"datum": 0.736, "axis": null}, "y": {"datum": 56, "axis": null}, "text": {"value": "CDHWf"}}}
  ]},
  {"width": 236, "height": 159, "title": "ERA5", "view": {"fill": "#fce9da"}, "transform": [{"filter": "datum.p==='c'"}], "resolve": {"axis": {"x": "independent", "y": "independent"}}, "layer": [
   {"data": {"values": [{}]}, "mark": {"type": "rule", "strokeDash": [5, 4], "color": "#555", "strokeWidth": 1}, "encoding": {"y": {"datum": 0, "axis": null}}},
   {"transform": [{"filter": "datum.s==='k'"}], "mark": {"type": "line", "color": "#333", "strokeWidth": 0.8, "clip": true}, "encoding": {"x": {"field": "x", "type": "quantitative", "scale": {"domain": [0, 0.8], "nice": false, "zero": false}, "axis": {"values": [0, 0.2, 0.4, 0.6, 0.8], "title": null}}, "y": {"field": "y", "type": "quantitative", "scale": {"domain": [-60, 70], "nice": false}, "axis": {"values": [-60, -40, -20, 0, 20, 40, 60], "title": "Latitude"}}, "order": {"field": "y", "type": "quantitative"}}},
   {"transform": [{"filter": "datum.s==='r'"}], "mark": {"type": "line", "color": "#e8191e", "strokeWidth": 1.8, "clip": true}, "encoding": {"x": {"field": "x", "type": "quantitative", "axis": null}, "y": {"field": "y", "type": "quantitative", "axis": null}, "order": {"field": "y", "type": "quantitative"}}},
   {"data": {"values": [{}]}, "mark": {"type": "text", "font": "Lato", "fontWeight": "bold", "fontSize": 18, "align": "left", "baseline": "middle"}, "encoding": {"x": {"datum": 0.02, "axis": null}, "y": {"datum": 56, "axis": null}, "text": {"value": "(c)"}}},
   {"data": {"values": [{}]}, "mark": {"type": "text", "font": "Liberation Sans", "fontSize": 15, "color": "#444", "align": "right", "baseline": "middle"}, "encoding": {"x": {"datum": 0.742, "axis": null}, "y": {"datum": 56, "axis": null}, "text": {"value": "CDHWf"}}}
  ]},
  {"width": 236, "height": 159, "view": {"fill": "#eceef9"}, "transform": [{"filter": "datum.p==='d'"}], "resolve": {"axis": {"x": "independent", "y": "independent"}}, "layer": [
   {"data": {"values": [{}]}, "mark": {"type": "rule", "strokeDash": [5, 4], "color": "#555", "strokeWidth": 1}, "encoding": {"y": {"datum": 0, "axis": null}}},
   {"data": {"values": [{}]}, "mark": {"type": "rule", "strokeDash": [5, 4], "color": "#555", "strokeWidth": 1}, "encoding": {"x": {"datum": 0, "axis": null}}},
   {"transform": [{"filter": "datum.s==='k'"}], "mark": {"type": "line", "color": "#333", "strokeWidth": 0.8, "clip": true}, "encoding": {"x": {"field": "x", "type": "quantitative", "scale": {"domain": [-0.04, 0.06], "nice": false, "zero": false}, "axis": {"values": [-0.04, -0.02, 0, 0.02, 0.04, 0.06], "title": null}}, "y": {"field": "y", "type": "quantitative", "scale": {"domain": [-60, 70], "nice": false}, "axis": {"values": [-60, -40, -20, 0, 20, 40, 60], "title": "Latitude"}}, "order": {"field": "y", "type": "quantitative"}}},
   {"transform": [{"filter": "datum.s==='r'"}], "mark": {"type": "line", "color": "#e8191e", "strokeWidth": 1.6, "clip": true}, "encoding": {"x": {"field": "x", "type": "quantitative", "axis": null}, "y": {"field": "y", "type": "quantitative", "axis": null}, "order": {"field": "y", "type": "quantitative"}}},
   {"transform": [{"filter": "datum.s==='r'"}], "mark": {"type": "point", "shape": "circle", "filled": false, "size": 12, "strokeWidth": 0.8, "color": "#e8191e", "clip": true}, "encoding": {"x": {"field": "x", "type": "quantitative", "axis": null}, "y": {"field": "y", "type": "quantitative", "axis": null}}},
   {"data": {"values": [{}]}, "mark": {"type": "text", "font": "Lato", "fontWeight": "bold", "fontSize": 18, "align": "left", "baseline": "middle"}, "encoding": {"x": {"datum": -0.0375, "axis": null}, "y": {"datum": 56, "axis": null}, "text": {"value": "(d)"}}},
   {"data": {"values": [{}]}, "mark": {"type": "text", "font": "Liberation Sans", "fontSize": 16, "color": "#444", "align": "right", "baseline": "middle"}, "encoding": {"x": {"datum": 0.057, "axis": null}, "y": {"datum": 38.5, "axis": null}, "text": {"value": "Trends per year"}}}
  ]},
  {"width": 236, "height": 159, "view": {"fill": "#eceef9"}, "transform": [{"filter": "datum.p==='e'"}], "resolve": {"axis": {"x": "independent", "y": "independent"}}, "layer": [
   {"data": {"values": [{}]}, "mark": {"type": "rule", "strokeDash": [5, 4], "color": "#555", "strokeWidth": 1}, "encoding": {"y": {"datum": 0, "axis": null}}},
   {"data": {"values": [{}]}, "mark": {"type": "rule", "strokeDash": [5, 4], "color": "#555", "strokeWidth": 1}, "encoding": {"x": {"datum": 0, "axis": null}}},
   {"transform": [{"filter": "datum.s==='k'"}], "mark": {"type": "line", "color": "#333", "strokeWidth": 0.8, "clip": true}, "encoding": {"x": {"field": "x", "type": "quantitative", "scale": {"domain": [-0.025, 0.06], "nice": false, "zero": false}, "axis": {"values": [-0.02, 0, 0.02, 0.04, 0.06], "title": null}}, "y": {"field": "y", "type": "quantitative", "scale": {"domain": [-60, 70], "nice": false}, "axis": {"values": [-60, -40, -20, 0, 20, 40, 60], "title": "Latitude", "labelExpr": "(datum.value == 40 || datum.value == 0 || datum.value == -40) ? '-40' : '-60'"}}, "order": {"field": "y", "type": "quantitative"}}},
   {"transform": [{"filter": "datum.s==='r'"}], "mark": {"type": "line", "color": "#e8191e", "strokeWidth": 1.6, "clip": true}, "encoding": {"x": {"field": "x", "type": "quantitative", "axis": null}, "y": {"field": "y", "type": "quantitative", "axis": null}, "order": {"field": "y", "type": "quantitative"}}},
   {"transform": [{"filter": "datum.s==='r'"}], "mark": {"type": "point", "shape": "circle", "filled": false, "size": 12, "strokeWidth": 0.8, "color": "#e8191e", "clip": true}, "encoding": {"x": {"field": "x", "type": "quantitative", "axis": null}, "y": {"field": "y", "type": "quantitative", "axis": null}}},
   {"data": {"values": [{}]}, "mark": {"type": "text", "font": "Lato", "fontWeight": "bold", "fontSize": 18, "align": "left", "baseline": "middle"}, "encoding": {"x": {"datum": -0.0229, "axis": null}, "y": {"datum": 56, "axis": null}, "text": {"value": "(e)"}}},
   {"data": {"values": [{}]}, "mark": {"type": "text", "font": "Liberation Sans", "fontSize": 16, "color": "#444", "align": "right", "baseline": "middle"}, "encoding": {"x": {"datum": 0.0558, "axis": null}, "y": {"datum": 38.5, "axis": null}, "text": {"value": "Trends per year"}}}
  ]},
  {"width": 236, "height": 159, "view": {"fill": "#eceef9"}, "transform": [{"filter": "datum.p==='f'"}], "resolve": {"axis": {"x": "independent", "y": "independent"}}, "layer": [
   {"data": {"values": [{}]}, "mark": {"type": "rule", "strokeDash": [5, 4], "color": "#555", "strokeWidth": 1}, "encoding": {"y": {"datum": 0, "axis": {"orient": "right", "title": "CDHW Frequency", "labels": false, "ticks": false, "domain": false, "grid": false, "titleFont": "Lato", "titleFontSize": 21, "titleFontWeight": "bold", "titleColor": "#000", "titleAngle": 90, "titlePadding": 6, "titleY": -16}}}},
   {"data": {"values": [{}]}, "mark": {"type": "rule", "strokeDash": [5, 4], "color": "#555", "strokeWidth": 1}, "encoding": {"x": {"datum": 0, "axis": null}}},
   {"transform": [{"filter": "datum.s==='k'"}], "mark": {"type": "line", "color": "#333", "strokeWidth": 0.8, "clip": true}, "encoding": {"x": {"field": "x", "type": "quantitative", "scale": {"domain": [-0.02, 0.1], "nice": false, "zero": false}, "axis": {"values": [0, 0.05, 0.1], "title": null}}, "y": {"field": "y", "type": "quantitative", "scale": {"domain": [-60, 70], "nice": false}, "axis": {"values": [-60, -40, -20, 0, 20, 40, 60], "title": "Latitude"}}, "order": {"field": "y", "type": "quantitative"}}},
   {"transform": [{"filter": "datum.s==='r'"}], "mark": {"type": "line", "color": "#e8191e", "strokeWidth": 1.6, "clip": true}, "encoding": {"x": {"field": "x", "type": "quantitative", "axis": null}, "y": {"field": "y", "type": "quantitative", "axis": null}, "order": {"field": "y", "type": "quantitative"}}},
   {"transform": [{"filter": "datum.s==='r'"}], "mark": {"type": "point", "shape": "circle", "filled": false, "size": 12, "strokeWidth": 0.8, "color": "#e8191e", "clip": true}, "encoding": {"x": {"field": "x", "type": "quantitative", "axis": null}, "y": {"field": "y", "type": "quantitative", "axis": null}}},
   {"data": {"values": [{}]}, "mark": {"type": "text", "font": "Lato", "fontWeight": "bold", "fontSize": 18, "align": "left", "baseline": "middle"}, "encoding": {"x": {"datum": -0.017, "axis": null}, "y": {"datum": 56, "axis": null}, "text": {"value": "(f)"}}},
   {"data": {"values": [{}]}, "mark": {"type": "text", "font": "Liberation Sans", "fontSize": 16, "color": "#444", "align": "right", "baseline": "middle"}, "encoding": {"x": {"datum": 0.0952, "axis": null}, "y": {"datum": 38.5, "axis": null}, "text": {"value": "Trends per year"}}}
  ]},
  {"width": 236, "height": 159, "view": {"fill": "#fce9da"}, "transform": [{"filter": "datum.p==='g'"}], "resolve": {"axis": {"x": "independent", "y": "independent"}}, "layer": [
   {"data": {"values": [{}]}, "mark": {"type": "rule", "strokeDash": [5, 4], "color": "#555", "strokeWidth": 1}, "encoding": {"y": {"datum": 0, "axis": null}}},
   {"transform": [{"filter": "datum.s==='k'"}], "mark": {"type": "line", "color": "#333", "strokeWidth": 0.8, "clip": true}, "encoding": {"x": {"field": "x", "type": "quantitative", "scale": {"domain": [0, 6], "nice": false, "zero": false}, "axis": {"values": [0, 1, 2, 3, 4, 5, 6], "title": null}}, "y": {"field": "y", "type": "quantitative", "scale": {"domain": [-60, 70], "nice": false}, "axis": {"values": [-60, -40, -20, 0, 20, 40, 60], "title": "Latitude"}}, "order": {"field": "y", "type": "quantitative"}}},
   {"transform": [{"filter": "datum.s==='r'"}], "mark": {"type": "line", "color": "#e8191e", "strokeWidth": 1.8, "clip": true}, "encoding": {"x": {"field": "x", "type": "quantitative", "axis": null}, "y": {"field": "y", "type": "quantitative", "axis": null}, "order": {"field": "y", "type": "quantitative"}}},
   {"data": {"values": [{}]}, "mark": {"type": "text", "font": "Lato", "fontWeight": "bold", "fontSize": 18, "align": "left", "baseline": "middle"}, "encoding": {"x": {"datum": 0.15, "axis": null}, "y": {"datum": 56, "axis": null}, "text": {"value": "(g)"}}},
   {"data": {"values": [{}]}, "mark": {"type": "text", "font": "Liberation Sans", "fontSize": 15, "color": "#444", "align": "right", "baseline": "middle"}, "encoding": {"x": {"datum": 5.67, "axis": null}, "y": {"datum": 53, "axis": null}, "text": {"value": "CDHWd"}}}
  ]},
  {"width": 236, "height": 159, "view": {"fill": "#fce9da"}, "transform": [{"filter": "datum.p==='h'"}], "resolve": {"axis": {"x": "independent", "y": "independent"}}, "layer": [
   {"data": {"values": [{}]}, "mark": {"type": "rule", "strokeDash": [5, 4], "color": "#555", "strokeWidth": 1}, "encoding": {"y": {"datum": 0, "axis": null}}},
   {"transform": [{"filter": "datum.s==='k'"}], "mark": {"type": "line", "color": "#333", "strokeWidth": 0.8, "clip": true}, "encoding": {"x": {"field": "x", "type": "quantitative", "scale": {"domain": [0, 6], "nice": false, "zero": false}, "axis": {"values": [0, 1, 2, 3, 4, 5, 6], "title": null}}, "y": {"field": "y", "type": "quantitative", "scale": {"domain": [-60, 70], "nice": false}, "axis": {"values": [-60, -40, -20, 0, 20, 40, 60], "title": "Latitude"}}, "order": {"field": "y", "type": "quantitative"}}},
   {"transform": [{"filter": "datum.s==='r'"}], "mark": {"type": "line", "color": "#e8191e", "strokeWidth": 1.8, "clip": true}, "encoding": {"x": {"field": "x", "type": "quantitative", "axis": null}, "y": {"field": "y", "type": "quantitative", "axis": null}, "order": {"field": "y", "type": "quantitative"}}},
   {"data": {"values": [{}]}, "mark": {"type": "text", "font": "Lato", "fontWeight": "bold", "fontSize": 18, "align": "left", "baseline": "middle"}, "encoding": {"x": {"datum": 0.15, "axis": null}, "y": {"datum": 56, "axis": null}, "text": {"value": "(h)"}}},
   {"data": {"values": [{}]}, "mark": {"type": "text", "font": "Liberation Sans", "fontSize": 15, "color": "#444", "align": "right", "baseline": "middle"}, "encoding": {"x": {"datum": 5.59, "axis": null}, "y": {"datum": 53, "axis": null}, "text": {"value": "CDHWd"}}}
  ]},
  {"width": 236, "height": 159, "view": {"fill": "#fce9da"}, "transform": [{"filter": "datum.p==='i'"}], "resolve": {"axis": {"x": "independent", "y": "independent"}}, "layer": [
   {"data": {"values": [{}]}, "mark": {"type": "rule", "strokeDash": [5, 4], "color": "#555", "strokeWidth": 1}, "encoding": {"y": {"datum": 0, "axis": null}}},
   {"transform": [{"filter": "datum.s==='k'"}], "mark": {"type": "line", "color": "#333", "strokeWidth": 0.8, "clip": true}, "encoding": {"x": {"field": "x", "type": "quantitative", "scale": {"domain": [0, 6], "nice": false, "zero": false}, "axis": {"values": [0, 1, 2, 3, 4, 5, 6], "title": null}}, "y": {"field": "y", "type": "quantitative", "scale": {"domain": [-60, 70], "nice": false}, "axis": {"values": [-60, -40, -20, 0, 20, 40, 60], "title": "Latitude"}}, "order": {"field": "y", "type": "quantitative"}}},
   {"transform": [{"filter": "datum.s==='r'"}], "mark": {"type": "line", "color": "#e8191e", "strokeWidth": 1.8, "clip": true}, "encoding": {"x": {"field": "x", "type": "quantitative", "axis": null}, "y": {"field": "y", "type": "quantitative", "axis": null}, "order": {"field": "y", "type": "quantitative"}}},
   {"data": {"values": [{}]}, "mark": {"type": "text", "font": "Lato", "fontWeight": "bold", "fontSize": 18, "align": "left", "baseline": "middle"}, "encoding": {"x": {"datum": 0.15, "axis": null}, "y": {"datum": 56, "axis": null}, "text": {"value": "(i)"}}},
   {"data": {"values": [{}]}, "mark": {"type": "text", "font": "Liberation Sans", "fontSize": 15, "color": "#444", "align": "right", "baseline": "middle"}, "encoding": {"x": {"datum": 5.59, "axis": null}, "y": {"datum": 53, "axis": null}, "text": {"value": "CDHWd"}}}
  ]},
  {"width": 236, "height": 159, "view": {"fill": "#eceef9"}, "transform": [{"filter": "datum.p==='j'"}], "resolve": {"axis": {"x": "independent", "y": "independent"}}, "layer": [
   {"data": {"values": [{}]}, "mark": {"type": "rule", "strokeDash": [5, 4], "color": "#555", "strokeWidth": 1}, "encoding": {"y": {"datum": 0, "axis": null}, "x": {"datum": -0.2, "axis": null}, "x2": {"datum": 0.5}}},
   {"data": {"values": [{}]}, "mark": {"type": "rule", "strokeDash": [5, 4], "color": "#555", "strokeWidth": 1}, "encoding": {"x": {"datum": 0, "axis": null}}},
   {"transform": [{"filter": "datum.s==='k'"}], "mark": {"type": "line", "color": "#333", "strokeWidth": 0.8, "clip": true}, "encoding": {"x": {"field": "x", "type": "quantitative", "scale": {"domain": [-0.2, 0.6], "nice": false, "zero": false}, "axis": {"values": [-0.2, 0, 0.2, 0.4, 0.6], "title": null}}, "y": {"field": "y", "type": "quantitative", "scale": {"domain": [-60, 70], "nice": false}, "axis": {"values": [-60, -40, -20, 0, 20, 40, 60], "title": "Latitude"}}, "order": {"field": "y", "type": "quantitative"}}},
   {"transform": [{"filter": "datum.s==='r'"}], "mark": {"type": "line", "color": "#e8191e", "strokeWidth": 1.6, "clip": true}, "encoding": {"x": {"field": "x", "type": "quantitative", "axis": null}, "y": {"field": "y", "type": "quantitative", "axis": null}, "order": {"field": "y", "type": "quantitative"}}},
   {"transform": [{"filter": "datum.s==='r'"}], "mark": {"type": "point", "shape": "circle", "filled": false, "size": 12, "strokeWidth": 0.8, "color": "#e8191e", "clip": true}, "encoding": {"x": {"field": "x", "type": "quantitative", "axis": null}, "y": {"field": "y", "type": "quantitative", "axis": null}}},
   {"data": {"values": [{}]}, "mark": {"type": "text", "font": "Lato", "fontWeight": "bold", "fontSize": 18, "align": "left", "baseline": "middle"}, "encoding": {"x": {"datum": -0.18, "axis": null}, "y": {"datum": 56, "axis": null}, "text": {"value": "(j)"}}},
   {"data": {"values": [{}]}, "mark": {"type": "text", "font": "Liberation Sans", "fontSize": 16, "color": "#444", "align": "right", "baseline": "middle"}, "encoding": {"x": {"datum": 0.542, "axis": null}, "y": {"datum": 41, "axis": null}, "text": {"value": "Trends per year"}}}
  ]},
  {"width": 236, "height": 159, "view": {"fill": "#eceef9"}, "transform": [{"filter": "datum.p==='k'"}], "resolve": {"axis": {"x": "independent", "y": "independent"}}, "layer": [
   {"data": {"values": [{}]}, "mark": {"type": "rule", "strokeDash": [5, 4], "color": "#555", "strokeWidth": 1}, "encoding": {"y": {"datum": 0, "axis": null}}},
   {"data": {"values": [{}]}, "mark": {"type": "rule", "strokeDash": [5, 4], "color": "#555", "strokeWidth": 1}, "encoding": {"x": {"datum": 0, "axis": null}}},
   {"transform": [{"filter": "datum.s==='k'"}], "mark": {"type": "line", "color": "#333", "strokeWidth": 0.8, "clip": true}, "encoding": {"x": {"field": "x", "type": "quantitative", "scale": {"domain": [-0.15, 0.3], "nice": false, "zero": false}, "axis": {"values": [-0.1, 0, 0.1, 0.2, 0.3], "title": null}}, "y": {"field": "y", "type": "quantitative", "scale": {"domain": [-60, 70], "nice": false}, "axis": {"values": [-60, -40, -20, 0, 20, 40, 60], "title": "Latitude"}}, "order": {"field": "y", "type": "quantitative"}}},
   {"transform": [{"filter": "datum.s==='r'"}], "mark": {"type": "line", "color": "#e8191e", "strokeWidth": 1.6, "clip": true}, "encoding": {"x": {"field": "x", "type": "quantitative", "axis": null}, "y": {"field": "y", "type": "quantitative", "axis": null}, "order": {"field": "y", "type": "quantitative"}}},
   {"transform": [{"filter": "datum.s==='r'"}], "mark": {"type": "point", "shape": "circle", "filled": false, "size": 12, "strokeWidth": 0.8, "color": "#e8191e", "clip": true}, "encoding": {"x": {"field": "x", "type": "quantitative", "axis": null}, "y": {"field": "y", "type": "quantitative", "axis": null}}},
   {"data": {"values": [{}]}, "mark": {"type": "text", "font": "Lato", "fontWeight": "bold", "fontSize": 18, "align": "left", "baseline": "middle"}, "encoding": {"x": {"datum": -0.139, "axis": null}, "y": {"datum": 56, "axis": null}, "text": {"value": "(k)"}}},
   {"data": {"values": [{}]}, "mark": {"type": "text", "font": "Liberation Sans", "fontSize": 16, "color": "#444", "align": "right", "baseline": "middle"}, "encoding": {"x": {"datum": 0.264, "axis": null}, "y": {"datum": 40, "axis": null}, "text": {"value": "Trends per year"}}}
  ]},
  {"width": 236, "height": 159, "view": {"fill": "#eceef9"}, "transform": [{"filter": "datum.p==='l'"}], "resolve": {"axis": {"x": "independent", "y": "independent"}}, "layer": [
   {"data": {"values": [{}]}, "mark": {"type": "rule", "strokeDash": [5, 4], "color": "#555", "strokeWidth": 1}, "encoding": {"y": {"datum": 0, "axis": {"orient": "right", "title": "CDHW Duration", "labels": false, "ticks": false, "domain": false, "grid": false, "titleFont": "Lato", "titleFontSize": 21, "titleFontWeight": "bold", "titleColor": "#000", "titleAngle": 90, "titlePadding": 6, "titleY": -16}}}},
   {"data": {"values": [{}]}, "mark": {"type": "rule", "strokeDash": [5, 4], "color": "#555", "strokeWidth": 1}, "encoding": {"x": {"datum": 0, "axis": null}}},
   {"transform": [{"filter": "datum.s==='k'"}], "mark": {"type": "line", "color": "#333", "strokeWidth": 0.8, "clip": true}, "encoding": {"x": {"field": "x", "type": "quantitative", "scale": {"domain": [-0.15, 0.6], "nice": false, "zero": false}, "axis": {"values": [0, 0.2, 0.4, 0.6], "title": null}}, "y": {"field": "y", "type": "quantitative", "scale": {"domain": [-60, 70], "nice": false}, "axis": {"values": [-60, -40, -20, 0, 20, 40, 60], "title": "Latitude"}}, "order": {"field": "y", "type": "quantitative"}}},
   {"transform": [{"filter": "datum.s==='r'"}], "mark": {"type": "line", "color": "#e8191e", "strokeWidth": 1.6, "clip": true}, "encoding": {"x": {"field": "x", "type": "quantitative", "axis": null}, "y": {"field": "y", "type": "quantitative", "axis": null}, "order": {"field": "y", "type": "quantitative"}}},
   {"transform": [{"filter": "datum.s==='r'"}], "mark": {"type": "point", "shape": "circle", "filled": false, "size": 12, "strokeWidth": 0.8, "color": "#e8191e", "clip": true}, "encoding": {"x": {"field": "x", "type": "quantitative", "axis": null}, "y": {"field": "y", "type": "quantitative", "axis": null}}},
   {"data": {"values": [{}]}, "mark": {"type": "text", "font": "Lato", "fontWeight": "bold", "fontSize": 18, "align": "left", "baseline": "middle"}, "encoding": {"x": {"datum": -0.131, "axis": null}, "y": {"datum": 56, "axis": null}, "text": {"value": "(l)"}}},
   {"data": {"values": [{}]}, "mark": {"type": "text", "font": "Liberation Sans", "fontSize": 16, "color": "#444", "align": "right", "baseline": "middle"}, "encoding": {"x": {"datum": 0.539, "axis": null}, "y": {"datum": 38.6, "axis": null}, "text": {"value": "Trends per year"}}}
  ]}
]},
{"columns": 3, "bounds": "flush", "spacing": {"row": 32, "column": 78}, "concat": [
  {"width": 236, "height": 159, "view": {"fill": "#fce9da"}, "transform": [{"filter": "datum.p==='m'"}], "resolve": {"axis": {"x": "independent", "y": "independent"}}, "layer": [
   {"data": {"values": [{}]}, "mark": {"type": "rule", "strokeDash": [5, 4], "color": "#555", "strokeWidth": 1}, "encoding": {"y": {"datum": 0, "axis": null}}},
   {"transform": [{"filter": "datum.s==='k'"}], "mark": {"type": "line", "color": "#333", "strokeWidth": 0.8, "clip": true}, "encoding": {"x": {"field": "x", "type": "quantitative", "scale": {"domain": [0, 27], "nice": false, "zero": false}, "axis": {"values": [0, 5, 10, 15, 20], "title": null}}, "y": {"field": "y", "type": "quantitative", "scale": {"domain": [-60, 70], "nice": false}, "axis": {"values": [-60, -40, -20, 0, 20, 40, 60], "title": "Latitude"}}, "order": {"field": "y", "type": "quantitative"}}},
   {"transform": [{"filter": "datum.s==='r'"}], "mark": {"type": "line", "color": "#e8191e", "strokeWidth": 1.8, "clip": true}, "encoding": {"x": {"field": "x", "type": "quantitative", "axis": null}, "y": {"field": "y", "type": "quantitative", "axis": null}, "order": {"field": "y", "type": "quantitative"}}},
   {"data": {"values": [{}]}, "mark": {"type": "text", "font": "Lato", "fontWeight": "bold", "fontSize": 18, "align": "left", "baseline": "middle"}, "encoding": {"x": {"datum": 0.675, "axis": null}, "y": {"datum": 56, "axis": null}, "text": {"value": "(m)"}}},
   {"data": {"values": [{}]}, "mark": {"type": "text", "font": "Liberation Sans", "fontSize": 15, "color": "#444", "align": "right", "baseline": "middle"}, "encoding": {"x": {"datum": 24.8, "axis": null}, "y": {"datum": 56, "axis": null}, "text": {"value": "CDHWs"}}}
  ]},
  {"width": 236, "height": 159, "view": {"fill": "#fce9da"}, "transform": [{"filter": "datum.p==='n'"}], "resolve": {"axis": {"x": "independent", "y": "independent"}}, "layer": [
   {"data": {"values": [{}]}, "mark": {"type": "rule", "strokeDash": [5, 4], "color": "#555", "strokeWidth": 1}, "encoding": {"y": {"datum": 0, "axis": null}}},
   {"transform": [{"filter": "datum.s==='k'"}], "mark": {"type": "line", "color": "#333", "strokeWidth": 0.8, "clip": true}, "encoding": {"x": {"field": "x", "type": "quantitative", "scale": {"domain": [0, 27], "nice": false, "zero": false}, "axis": {"values": [0, 5, 10, 15, 20], "title": null}}, "y": {"field": "y", "type": "quantitative", "scale": {"domain": [-60, 70], "nice": false}, "axis": {"values": [-60, -40, -20, 0, 20, 40, 60], "title": "Latitude"}}, "order": {"field": "y", "type": "quantitative"}}},
   {"transform": [{"filter": "datum.s==='r'"}], "mark": {"type": "line", "color": "#e8191e", "strokeWidth": 1.8, "clip": true}, "encoding": {"x": {"field": "x", "type": "quantitative", "axis": null}, "y": {"field": "y", "type": "quantitative", "axis": null}, "order": {"field": "y", "type": "quantitative"}}},
   {"data": {"values": [{}]}, "mark": {"type": "text", "font": "Lato", "fontWeight": "bold", "fontSize": 18, "align": "left", "baseline": "middle"}, "encoding": {"x": {"datum": 0.675, "axis": null}, "y": {"datum": 56, "axis": null}, "text": {"value": "(n)"}}},
   {"data": {"values": [{}]}, "mark": {"type": "text", "font": "Liberation Sans", "fontSize": 15, "color": "#444", "align": "right", "baseline": "middle"}, "encoding": {"x": {"datum": 24.8, "axis": null}, "y": {"datum": 56, "axis": null}, "text": {"value": "CDHWs"}}}
  ]},
  {"width": 236, "height": 159, "view": {"fill": "#fce9da"}, "transform": [{"filter": "datum.p==='o'"}], "resolve": {"axis": {"x": "independent", "y": "independent"}}, "layer": [
   {"data": {"values": [{}]}, "mark": {"type": "rule", "strokeDash": [5, 4], "color": "#555", "strokeWidth": 1}, "encoding": {"y": {"datum": 0, "axis": null}}},
   {"transform": [{"filter": "datum.s==='k'"}], "mark": {"type": "line", "color": "#333", "strokeWidth": 0.8, "clip": true}, "encoding": {"x": {"field": "x", "type": "quantitative", "scale": {"domain": [3, 21.5], "nice": false, "zero": false}, "axis": {"values": [5, 10, 15, 20], "title": null}}, "y": {"field": "y", "type": "quantitative", "scale": {"domain": [-60, 70], "nice": false}, "axis": {"values": [-60, -40, -20, 0, 20, 40, 60], "title": "Latitude"}}, "order": {"field": "y", "type": "quantitative"}}},
   {"transform": [{"filter": "datum.s==='r'"}], "mark": {"type": "line", "color": "#e8191e", "strokeWidth": 1.8, "clip": true}, "encoding": {"x": {"field": "x", "type": "quantitative", "axis": null}, "y": {"field": "y", "type": "quantitative", "axis": null}, "order": {"field": "y", "type": "quantitative"}}},
   {"data": {"values": [{}]}, "mark": {"type": "text", "font": "Lato", "fontWeight": "bold", "fontSize": 18, "align": "left", "baseline": "middle"}, "encoding": {"x": {"datum": 3.46, "axis": null}, "y": {"datum": 56, "axis": null}, "text": {"value": "(o)"}}},
   {"data": {"values": [{}]}, "mark": {"type": "text", "font": "Liberation Sans", "fontSize": 15, "color": "#444", "align": "right", "baseline": "middle"}, "encoding": {"x": {"datum": 20.0, "axis": null}, "y": {"datum": 56, "axis": null}, "text": {"value": "CDHWs"}}}
  ]},
  {"width": 236, "height": 159, "view": {"fill": "#eceef9"}, "transform": [{"filter": "datum.p==='p'"}], "resolve": {"axis": {"x": "independent", "y": "independent"}}, "layer": [
   {"data": {"values": [{}]}, "mark": {"type": "rule", "strokeDash": [5, 4], "color": "#555", "strokeWidth": 1}, "encoding": {"y": {"datum": 0, "axis": null}}},
   {"data": {"values": [{}]}, "mark": {"type": "rule", "strokeDash": [5, 4], "color": "#555", "strokeWidth": 1}, "encoding": {"x": {"datum": 0, "axis": null}}},
   {"transform": [{"filter": "datum.s==='k'"}], "mark": {"type": "line", "color": "#333", "strokeWidth": 0.8, "clip": true}, "encoding": {"x": {"field": "x", "type": "quantitative", "scale": {"domain": [-1, 1], "nice": false, "zero": false}, "axis": {"values": [-1, -0.5, 0, 0.5, 1], "title": null}}, "y": {"field": "y", "type": "quantitative", "scale": {"domain": [-60, 70], "nice": false}, "axis": {"values": [-60, -40, -20, 0, 20, 40, 60], "title": "Latitude"}}, "order": {"field": "y", "type": "quantitative"}}},
   {"transform": [{"filter": "datum.s==='r'"}], "mark": {"type": "line", "color": "#e8191e", "strokeWidth": 1.6, "clip": true}, "encoding": {"x": {"field": "x", "type": "quantitative", "axis": null}, "y": {"field": "y", "type": "quantitative", "axis": null}, "order": {"field": "y", "type": "quantitative"}}},
   {"transform": [{"filter": "datum.s==='r'"}], "mark": {"type": "point", "shape": "circle", "filled": false, "size": 12, "strokeWidth": 0.8, "color": "#e8191e", "clip": true}, "encoding": {"x": {"field": "x", "type": "quantitative", "axis": null}, "y": {"field": "y", "type": "quantitative", "axis": null}}},
   {"data": {"values": [{}]}, "mark": {"type": "text", "font": "Lato", "fontWeight": "bold", "fontSize": 18, "align": "left", "baseline": "middle"}, "encoding": {"x": {"datum": -0.95, "axis": null}, "y": {"datum": 56, "axis": null}, "text": {"value": "(p)"}}},
   {"data": {"values": [{}]}, "mark": {"type": "text", "font": "Liberation Sans", "fontSize": 16, "color": "#444", "align": "right", "baseline": "middle"}, "encoding": {"x": {"datum": 0.94, "axis": null}, "y": {"datum": 38, "axis": null}, "text": {"value": "Trends per year"}}}
  ]},
  {"width": 236, "height": 159, "view": {"fill": "#eceef9"}, "transform": [{"filter": "datum.p==='q'"}], "resolve": {"axis": {"x": "independent", "y": "independent"}}, "layer": [
   {"data": {"values": [{}]}, "mark": {"type": "rule", "strokeDash": [5, 4], "color": "#555", "strokeWidth": 1}, "encoding": {"y": {"datum": 0, "axis": null}}},
   {"data": {"values": [{}]}, "mark": {"type": "rule", "strokeDash": [5, 4], "color": "#555", "strokeWidth": 1}, "encoding": {"x": {"datum": 0, "axis": null}}},
   {"transform": [{"filter": "datum.s==='k'"}], "mark": {"type": "line", "color": "#333", "strokeWidth": 0.8, "clip": true}, "encoding": {"x": {"field": "x", "type": "quantitative", "scale": {"domain": [-0.5, 1.5], "nice": false, "zero": false}, "axis": {"values": [-0.5, 0, 0.5, 1, 1.5], "title": null}}, "y": {"field": "y", "type": "quantitative", "scale": {"domain": [-60, 70], "nice": false}, "axis": {"values": [-60, -40, -20, 0, 20, 40, 60], "title": "Latitude"}}, "order": {"field": "y", "type": "quantitative"}}},
   {"transform": [{"filter": "datum.s==='r'"}], "mark": {"type": "line", "color": "#e8191e", "strokeWidth": 1.6, "clip": true}, "encoding": {"x": {"field": "x", "type": "quantitative", "axis": null}, "y": {"field": "y", "type": "quantitative", "axis": null}, "order": {"field": "y", "type": "quantitative"}}},
   {"transform": [{"filter": "datum.s==='r'"}], "mark": {"type": "point", "shape": "circle", "filled": false, "size": 12, "strokeWidth": 0.8, "color": "#e8191e", "clip": true}, "encoding": {"x": {"field": "x", "type": "quantitative", "axis": null}, "y": {"field": "y", "type": "quantitative", "axis": null}}},
   {"data": {"values": [{}]}, "mark": {"type": "text", "font": "Lato", "fontWeight": "bold", "fontSize": 18, "align": "left", "baseline": "middle"}, "encoding": {"x": {"datum": -0.45, "axis": null}, "y": {"datum": 56, "axis": null}, "text": {"value": "(q)"}}},
   {"data": {"values": [{}]}, "mark": {"type": "text", "font": "Liberation Sans", "fontSize": 16, "color": "#444", "align": "right", "baseline": "middle"}, "encoding": {"x": {"datum": 1.4, "axis": null}, "y": {"datum": 38, "axis": null}, "text": {"value": "Trends per year"}}}
  ]},
  {"width": 236, "height": 159, "view": {"fill": "#eceef9"}, "transform": [{"filter": "datum.p==='r'"}], "resolve": {"axis": {"x": "independent", "y": "independent"}}, "layer": [
   {"data": {"values": [{}]}, "mark": {"type": "rule", "strokeDash": [5, 4], "color": "#555", "strokeWidth": 1}, "encoding": {"y": {"datum": 0, "axis": {"orient": "right", "title": "CDHW Severity", "labels": false, "ticks": false, "domain": false, "grid": false, "titleFont": "Lato", "titleFontSize": 21, "titleFontWeight": "bold", "titleColor": "#000", "titleAngle": 90, "titlePadding": 6, "titleY": -16}}}},
   {"data": {"values": [{}]}, "mark": {"type": "rule", "strokeDash": [5, 4], "color": "#555", "strokeWidth": 1}, "encoding": {"x": {"datum": 0, "axis": null}}},
   {"transform": [{"filter": "datum.s==='k'"}], "mark": {"type": "line", "color": "#333", "strokeWidth": 0.8, "clip": true}, "encoding": {"x": {"field": "x", "type": "quantitative", "scale": {"domain": [-1.7, 1.9], "nice": false, "zero": false}, "axis": {"values": [-1, 0, 1], "title": null}}, "y": {"field": "y", "type": "quantitative", "scale": {"domain": [-60, 70], "nice": false}, "axis": {"values": [-60, -40, -20, 0, 20, 40, 60], "title": "Latitude"}}, "order": {"field": "y", "type": "quantitative"}}},
   {"transform": [{"filter": "datum.s==='r'"}], "mark": {"type": "line", "color": "#e8191e", "strokeWidth": 1.6, "clip": true}, "encoding": {"x": {"field": "x", "type": "quantitative", "axis": null}, "y": {"field": "y", "type": "quantitative", "axis": null}, "order": {"field": "y", "type": "quantitative"}}},
   {"transform": [{"filter": "datum.s==='r'"}], "mark": {"type": "point", "shape": "circle", "filled": false, "size": 12, "strokeWidth": 0.8, "color": "#e8191e", "clip": true}, "encoding": {"x": {"field": "x", "type": "quantitative", "axis": null}, "y": {"field": "y", "type": "quantitative", "axis": null}}},
   {"data": {"values": [{}]}, "mark": {"type": "text", "font": "Lato", "fontWeight": "bold", "fontSize": 18, "align": "left", "baseline": "middle"}, "encoding": {"x": {"datum": -1.61, "axis": null}, "y": {"datum": 56, "axis": null}, "text": {"value": "(r)"}}},
   {"data": {"values": [{}]}, "mark": {"type": "text", "font": "Liberation Sans", "fontSize": 16, "color": "#444", "align": "right", "baseline": "middle"}, "encoding": {"x": {"datum": 1.79, "axis": null}, "y": {"datum": 38, "axis": null}, "text": {"value": "Trends per year"}}}
  ]}
]}
]
}
